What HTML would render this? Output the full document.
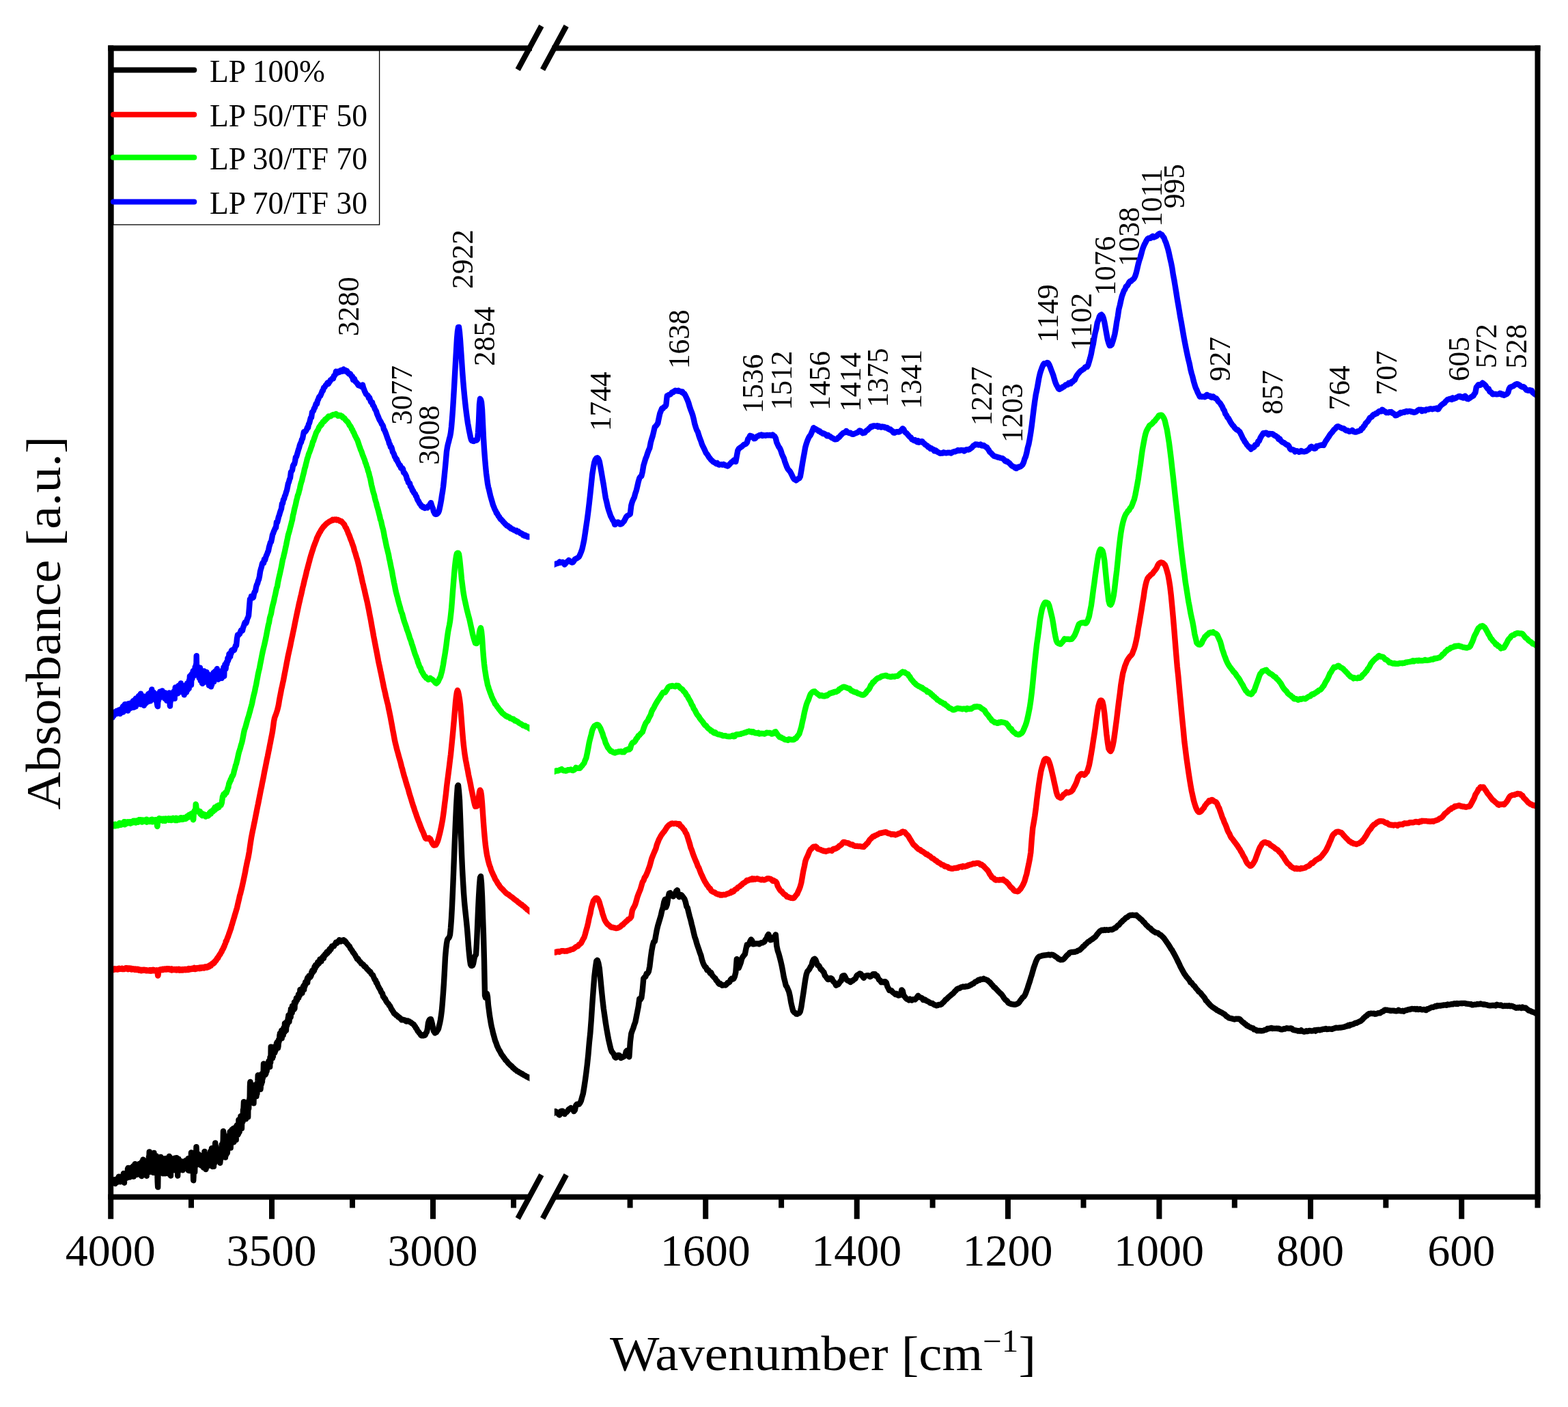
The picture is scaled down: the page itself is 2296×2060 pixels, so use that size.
<!DOCTYPE html>
<html lang="en"><head><meta charset="utf-8"><title>FTIR spectra</title>
<style>html,body{margin:0;padding:0;background:#fff}svg{display:block}</style></head>
<body>
<svg xmlns="http://www.w3.org/2000/svg" width="2296" height="2060" viewBox="0 0 2296 2060">
<rect width="2296" height="2060" fill="#fff"/>
<defs><clipPath id="cl"><rect x="162.2" y="70.5" width="613.2" height="1682"/></clipPath><clipPath id="cr"><rect x="811.8" y="70.5" width="1439.7" height="1682"/></clipPath></defs>
<g font-family="'Liberation Serif', serif" fill="#000">
<text transform="translate(524.8 492.3) rotate(-90)" font-size="43.5">3280</text>
<text transform="translate(691.6 423) rotate(-90)" font-size="43.5">2922</text>
<text transform="translate(723.6 535.9) rotate(-90)" font-size="43.5">2854</text>
<text transform="translate(602.8 622) rotate(-90)" font-size="43.5">3077</text>
<text transform="translate(643.4 680.5) rotate(-90)" font-size="43.5">3008</text>
<text transform="translate(894.2 631.2) rotate(-90)" font-size="43.5">1744</text>
<text transform="translate(1009.4 540.2) rotate(-90)" font-size="43.5">1638</text>
<text transform="translate(1117.2 605.4) rotate(-90)" font-size="43.5">1536</text>
<text transform="translate(1158.8 600.4) rotate(-90)" font-size="43.5">1512</text>
<text transform="translate(1214.8 601.1) rotate(-90)" font-size="43.5">1456</text>
<text transform="translate(1260 603) rotate(-90)" font-size="43.5">1414</text>
<text transform="translate(1300.3 596.6) rotate(-90)" font-size="43.5">1375</text>
<text transform="translate(1348.6 599) rotate(-90)" font-size="43.5">1341</text>
<text transform="translate(1452.2 623.5) rotate(-90)" font-size="43.5">1227</text>
<text transform="translate(1497 648.3) rotate(-90)" font-size="43.5">1203</text>
<text transform="translate(1549.1 501.7) rotate(-90)" font-size="43.5">1149</text>
<text transform="translate(1598.1 514.1) rotate(-90)" font-size="43.5">1102</text>
<text transform="translate(1632.8 432.7) rotate(-90)" font-size="43.5">1076</text>
<text transform="translate(1668.2 390.2) rotate(-90)" font-size="43.5">1038</text>
<text transform="translate(1700.6 332.1) rotate(-90)" font-size="43.5">1011</text>
<text transform="translate(1733.6 305.3) rotate(-90)" font-size="43.5">995</text>
<text transform="translate(1801.2 558.3) rotate(-90)" font-size="43.5">927</text>
<text transform="translate(1878.2 607) rotate(-90)" font-size="43.5">857</text>
<text transform="translate(1975.5 600.5) rotate(-90)" font-size="43.5">764</text>
<text transform="translate(2045.2 578.6) rotate(-90)" font-size="43.5">707</text>
<text transform="translate(2151.3 558.2) rotate(-90)" font-size="43.5">605</text>
<text transform="translate(2190.6 539.3) rotate(-90)" font-size="43.5">572</text>
<text transform="translate(2234.9 539.8) rotate(-90)" font-size="43.5">528</text>
</g>
<g fill="none" stroke-width="8.4" stroke-linejoin="round" stroke-linecap="butt">
<path clip-path="url(#cl)" stroke="#000" d="M156.2 1732.7L156.45 1733L156.7 1732.3L156.95 1731.5L157.2 1731.9L157.45 1731.2L157.7 1732.4L157.95 1733.9L158.2 1731.6L158.45 1731.4L158.7 1732.7L158.95 1732.4L159.2 1732.1L159.45 1730.8L159.7 1731.8L159.95 1732.6L160.2 1730.1L160.45 1731.1L160.7 1729.3L160.95 1730L161.2 1729.2L161.45 1731.1L161.7 1729.8L161.95 1731.6L162.2 1731.4L162.45 1730.9L162.7 1727.9L162.95 1730.3L163.2 1730.9L163.45 1731L163.7 1728.7L163.95 1730.1L164.2 1729.3L164.45 1729.5L164.7 1732.1L164.95 1729.3L165.2 1730.4L165.45 1731.7L165.7 1729.4L165.95 1730.1L166.2 1730.3L166.45 1730.2L166.7 1728L166.95 1730L167.2 1732.1L167.45 1727.1L167.7 1731.1L167.95 1729.8L168.2 1728.3L168.45 1733L168.7 1730.6L168.95 1727L169.2 1729.2L169.45 1730.1L169.7 1728.5L169.95 1730.1L170.2 1728.5L170.45 1729.9L170.7 1731.3L170.95 1727L171.2 1728.7L171.45 1727.2L171.7 1728.3L171.95 1725.4L172.2 1726.6L172.45 1727.3L172.7 1729.6L172.95 1730.1L173.2 1724.5L173.45 1725.6L173.7 1728.7L173.95 1722.6L174.2 1726L174.45 1726.8L174.7 1729.9L174.95 1728.5L175.2 1725.9L175.45 1725.7L175.7 1725.9L175.95 1730.4L176.2 1725.3L176.45 1725.5L176.7 1727.2L176.95 1725.8L177.2 1725.5L177.45 1722.9L177.7 1725.9L177.95 1724.6L178.2 1729.1L178.45 1727.5L178.7 1725.5L178.95 1727.4L179.2 1724.3L179.45 1728.5L179.7 1725.1L179.95 1726.9L180.2 1720.9L180.45 1726L180.7 1719.3L180.95 1718L181.2 1723.5L181.45 1721.4L181.7 1724.8L181.95 1731.7L182.2 1721L182.45 1721.5L182.7 1724.2L182.95 1725.1L183.2 1722.5L183.45 1722.2L183.7 1725.3L183.95 1724.4L184.2 1718.4L184.45 1721.7L184.7 1721.9L184.95 1717.5L185.2 1722.3L185.45 1717.7L185.7 1724.6L185.95 1721.3L186.2 1720.6L186.45 1717.6L186.7 1719.3L186.95 1711.3L187.2 1714.6L187.45 1720.5L187.7 1709.9L187.95 1722.2L188.2 1710.9L188.45 1721.4L188.7 1714.3L188.95 1721.2L189.2 1718.1L189.45 1710.6L189.7 1722.8L189.95 1723.6L190.2 1716.6L190.45 1715.5L190.7 1715.9L190.95 1711.9L191.2 1721.4L191.45 1713.6L191.7 1715.8L191.95 1712.1L192.2 1712.7L192.45 1709.4L192.7 1721.6L192.95 1714.6L193.2 1720L193.45 1715.2L193.7 1711.5L193.95 1713.2L194.2 1711.9L194.45 1714.6L194.7 1712.6L194.95 1712.9L195.2 1707.2L195.45 1710L195.7 1722.6L195.95 1710.5L196.2 1708.4L196.45 1715.5L196.7 1721L196.95 1706L197.2 1712.4L197.45 1710.1L197.7 1704.1L197.95 1717.1L198.2 1713.1L198.45 1713.5L198.7 1709L198.95 1715.4L199.2 1710L199.45 1712.1L199.7 1706.8L199.95 1706.1L200.2 1719.9L200.45 1709.8L200.7 1714.1L200.95 1712.3L201.2 1710L201.45 1709.5L201.7 1715.8L201.95 1710.6L202.2 1711.3L202.45 1712.2L202.7 1718.6L202.95 1715.8L203.2 1714.1L203.45 1708.7L203.7 1704L203.95 1717.2L204.2 1717.2L204.45 1710.9L204.7 1714.7L204.95 1716L205.2 1716.3L205.45 1716.7L205.7 1708.7L205.95 1720.1L206.2 1704L206.45 1716.2L206.7 1714L206.95 1716.2L207.2 1722L207.45 1719.7L207.7 1704.1L207.95 1700.8L208.2 1715.6L208.45 1704.7L208.7 1710.6L208.95 1715.6L209.2 1700.7L209.45 1697.8L209.7 1712L209.95 1710.6L210.2 1708.8L210.45 1710.5L210.7 1704.9L210.95 1700.9L211.2 1709L211.45 1704L211.7 1699.8L211.95 1713L212.2 1709.4L212.45 1712.2L212.7 1703.5L212.95 1705.5L213.2 1703.2L213.45 1703.8L213.7 1710.5L213.95 1704.3L214.2 1711.4L214.45 1711.2L214.7 1721.8L214.95 1700L215.2 1714.4L215.45 1708.1L215.7 1708.5L215.95 1699.2L216.2 1705.5L216.45 1713.1L216.7 1707.7L216.95 1708.6L217.2 1706.1L217.45 1715.3L217.7 1707.7L217.95 1693.6L218.2 1703.1L218.45 1694.8L218.7 1686.4L218.95 1703.9L219.2 1715.8L219.45 1707.4L219.7 1699.4L219.95 1700.8L220.2 1714.1L220.45 1707.7L220.7 1706.9L220.95 1706.2L221.2 1706.7L221.45 1711.6L221.7 1709.9L221.95 1707.6L222.2 1699.3L222.45 1709.4L222.7 1701.5L222.95 1713L223.2 1697.5L223.45 1704.8L223.7 1705.6L223.95 1696.9L224.2 1716.8L224.45 1715L224.7 1702.3L224.95 1710.4L225.2 1707.7L225.45 1687.9L225.7 1706.7L225.95 1704.6L226.2 1705.5L226.45 1697.8L226.7 1703.1L226.95 1703.6L227.2 1712.6L227.45 1706.9L227.7 1704.6L227.95 1714.8L228.2 1700.9L228.45 1702L228.7 1692.5L228.95 1715L229.2 1711L229.45 1710.8L229.7 1709.6L229.95 1707.8L230.2 1713.7L230.45 1720L230.7 1730L230.95 1734.7L231.2 1738.1L231.45 1721.3L231.7 1709.2L231.95 1702.1L232.2 1700.6L232.45 1715.4L232.7 1708L232.95 1705L233.2 1702.2L233.45 1697.1L233.7 1704.1L233.95 1710.4L234.2 1701.9L234.45 1703L234.7 1703.1L234.95 1705.3L235.2 1693.9L235.45 1703L235.7 1698.8L235.95 1710.5L236.2 1699.4L236.45 1708.4L236.7 1714.8L236.95 1702.5L237.2 1700.5L237.45 1705.9L237.7 1704.6L237.95 1697.9L238.2 1707.7L238.45 1718.2L238.7 1702.9L238.95 1703.3L239.2 1697.7L239.45 1706.9L239.7 1696.4L239.95 1697.4L240.2 1713.4L240.45 1698.8L240.7 1712.2L240.95 1715.2L241.2 1706.7L241.45 1708.7L241.7 1718.2L241.95 1703.8L242.2 1701.2L242.45 1696.1L242.7 1705.5L242.95 1715.2L243.2 1711.8L243.45 1699L243.7 1699.7L243.95 1702.1L244.2 1707.5L244.45 1704.1L244.7 1707L244.95 1707.6L245.2 1703.6L245.45 1705.4L245.7 1707.1L245.95 1705.2L246.2 1709.2L246.45 1718.4L246.7 1709.8L246.95 1706.3L247.2 1694.6L247.45 1708.6L247.7 1693L247.95 1696.6L248.2 1711.9L248.45 1710.9L248.7 1705.2L248.95 1694.7L249.2 1703.8L249.45 1701.7L249.7 1710.6L249.95 1721.5L250.2 1707.9L250.45 1701.2L250.7 1698.6L250.95 1706.1L251.2 1705.3L251.45 1698.9L251.7 1707.3L251.95 1699L252.2 1713.8L252.45 1713.5L252.7 1713.6L252.95 1703.5L253.2 1709.9L253.45 1705.7L253.7 1704L253.95 1704.4L254.2 1698.2L254.45 1697.4L254.7 1711.6L254.95 1705.3L255.2 1707.9L255.45 1712.8L255.7 1695.7L255.95 1701.6L256.2 1707.6L256.45 1709L256.7 1704.2L256.95 1712.9L257.2 1707.8L257.45 1699.1L257.7 1700.9L257.95 1711.4L258.2 1709.4L258.45 1695.1L258.7 1714.7L258.95 1710.1L259.2 1714.6L259.45 1704.3L259.7 1704.8L259.95 1699.9L260.2 1721.5L260.45 1705.5L260.7 1715.9L260.95 1702.8L261.2 1707.5L261.45 1696.9L261.7 1704.4L261.95 1712.3L262.2 1699.6L262.45 1712.7L262.7 1708.6L262.95 1701.1L263.2 1704.2L263.45 1704.5L263.7 1706.7L263.95 1704.3L264.2 1702.9L264.45 1705.6L264.7 1702.2L264.95 1701.1L265.2 1707L265.45 1711.2L265.7 1700.5L265.95 1707.3L266.2 1704.6L266.45 1703.3L266.7 1710.9L266.95 1705.4L267.2 1713.3L267.45 1704.5L267.7 1708.9L267.95 1706.7L268.2 1704.8L268.45 1709.7L268.7 1706.9L268.95 1709.7L269.2 1707.3L269.45 1703.3L269.7 1706.9L269.95 1707.5L270.2 1710.9L270.45 1703.5L270.7 1706.8L270.95 1700L271.2 1709.4L271.45 1702.3L271.7 1699.1L271.95 1706.2L272.2 1710.9L272.45 1699.7L272.7 1701.4L272.95 1702.7L273.2 1700.9L273.45 1707.3L273.7 1702L273.95 1702.2L274.2 1707.9L274.45 1701.8L274.7 1707L274.95 1700.5L275.2 1699.3L275.45 1696.2L275.7 1713.5L275.95 1703.1L276.2 1705.8L276.45 1704.4L276.7 1705.3L276.95 1704.7L277.2 1714.1L277.45 1698.9L277.7 1696.1L277.95 1698.8L278.2 1697L278.45 1708.2L278.7 1708.6L278.95 1698.7L279.2 1696.2L279.45 1702L279.7 1712L279.95 1687.5L280.2 1707L280.45 1697.5L280.7 1710.1L280.95 1697.3L281.2 1702L281.45 1694.4L281.7 1697.7L281.95 1713.2L282.2 1711.9L282.45 1709.7L282.7 1715.9L282.95 1717.5L283.2 1728.2L283.45 1723.3L283.7 1713.3L283.95 1706.7L284.2 1697.2L284.45 1703.3L284.7 1703.4L284.95 1712.1L285.2 1715.8L285.45 1702.7L285.7 1698.6L285.95 1703.1L286.2 1699.4L286.45 1697.6L286.7 1699.1L286.95 1686.4L287.2 1688.8L287.45 1679.1L287.7 1683.7L287.95 1688.7L288.2 1692.7L288.45 1695.5L288.7 1701.6L288.95 1700L289.2 1705.1L289.45 1703.6L289.7 1694.8L289.95 1704L290.2 1694.9L290.45 1699.6L290.7 1701.7L290.95 1690.2L291.2 1704.2L291.45 1704.6L291.7 1702.6L291.95 1700.9L292.2 1701.2L292.45 1697.3L292.7 1701.8L292.95 1700L293.2 1704.1L293.45 1695.8L293.7 1704.9L293.95 1704.2L294.2 1702.4L294.45 1700.4L294.7 1706.7L294.95 1692.5L295.2 1705.9L295.45 1704.5L295.7 1704.6L295.95 1705.2L296.2 1698.6L296.45 1701L296.7 1706.6L296.95 1705.2L297.2 1703.7L297.45 1692.8L297.7 1705.6L297.95 1709.5L298.2 1708.4L298.45 1703.5L298.7 1692.2L298.95 1707.8L299.2 1700.9L299.45 1685.9L299.7 1704L299.95 1692.3L300.2 1693.4L300.45 1697.5L300.7 1709.3L300.95 1699L301.2 1703L301.45 1712.1L301.7 1711.1L301.95 1700.5L302.2 1699.6L302.45 1693.2L302.7 1696.6L302.95 1703.6L303.2 1703.3L303.45 1701.5L303.7 1706.9L303.95 1695.9L304.2 1700.3L304.45 1705.1L304.7 1704.2L304.95 1707.1L305.2 1702.9L305.45 1698.4L305.7 1702.5L305.95 1694L306.2 1690L306.45 1703.7L306.7 1699.7L306.95 1701.8L307.2 1689.3L307.45 1697.5L307.7 1695.9L307.95 1694.2L308.2 1685.5L308.45 1697.2L308.7 1704.7L308.95 1701.4L309.2 1695.1L309.45 1698.6L309.7 1703.2L309.95 1681.3L310.2 1697.3L310.45 1701.3L310.7 1701.9L310.95 1708L311.2 1704.3L311.45 1699L311.7 1698.8L311.95 1701.5L312.2 1693.2L312.45 1696.1L312.7 1701.7L312.95 1707.9L313.2 1694.7L313.45 1695.2L313.7 1696.5L313.95 1703.2L314.2 1694L314.45 1701L314.7 1681.2L314.95 1678.9L315.2 1673.4L315.45 1679.9L315.7 1687.2L315.95 1678.1L316.2 1685.6L316.45 1694.7L316.7 1688.9L316.95 1683.5L317.2 1699L317.45 1695.5L317.7 1695.4L317.95 1689.3L318.2 1698.3L318.45 1690.5L318.7 1698.5L318.95 1686.1L319.2 1686.3L319.45 1692.6L319.7 1686.9L319.95 1695.1L320.2 1692.4L320.45 1685L320.7 1690.9L320.95 1688.1L321.2 1695.6L321.45 1686L321.7 1686.9L321.95 1696.7L322.2 1702.7L322.45 1700.9L322.7 1688.9L322.95 1689.5L323.2 1697.1L323.45 1686.7L323.7 1681.2L323.95 1687.5L324.2 1689.2L324.45 1681L324.7 1675.7L324.95 1676.6L325.2 1688.9L325.45 1679.9L325.7 1682.9L325.95 1683.6L326.2 1683L326.45 1671.8L326.7 1669.9L326.95 1656.1L327.2 1658.4L327.45 1658.6L327.7 1677.9L327.95 1676.1L328.2 1674.8L328.45 1678.2L328.7 1679.1L328.95 1684.5L329.2 1670.5L329.45 1673.6L329.7 1677.4L329.95 1694.6L330.2 1684.9L330.45 1678.3L330.7 1683L330.95 1690.8L331.2 1676.9L331.45 1675.9L331.7 1685L331.95 1680.5L332.2 1681.3L332.45 1674L332.7 1688.2L332.95 1686.7L333.2 1679.5L333.45 1679.9L333.7 1663.4L333.95 1679L334.2 1673.7L334.45 1677L334.7 1678.1L334.95 1671.6L335.2 1663.2L335.45 1675L335.7 1668L335.95 1670L336.2 1668L336.45 1669.1L336.7 1657L336.95 1677.4L337.2 1671.3L337.45 1675.9L337.7 1680.6L337.95 1668.6L338.2 1657.3L338.45 1662.3L338.7 1660L338.95 1663.7L339.2 1666.7L339.45 1654L339.7 1667.4L339.95 1656.1L340.2 1666.3L340.45 1663.5L340.7 1661.8L340.95 1662.8L341.2 1659.6L341.45 1658.8L341.7 1652.1L341.95 1661.3L342.2 1671.9L342.45 1672.3L342.7 1668L342.95 1664L343.2 1655.5L343.45 1667.4L343.7 1658.3L343.95 1657.8L344.2 1656.1L344.45 1657.9L344.7 1654.5L344.95 1656.1L345.2 1649.9L345.45 1653.7L345.7 1668.8L345.95 1654.8L346.2 1653.5L346.45 1657.6L346.7 1658.3L346.95 1647.4L347.2 1652.4L347.45 1658.6L347.7 1654.5L347.95 1653.4L348.2 1661.4L348.45 1648.1L348.7 1652.2L348.95 1648.4L349.2 1659.7L349.45 1639.5L349.7 1646.6L349.95 1647L350.2 1653.6L350.45 1652.9L350.7 1657L350.95 1639.5L351.2 1652.5L351.45 1646.1L351.7 1643.5L351.95 1650L352.2 1641.2L352.45 1634.1L352.7 1643.4L352.95 1636.4L353.2 1640.8L353.45 1646.1L353.7 1645.3L353.95 1652.1L354.2 1641.3L354.45 1633.1L354.7 1637.1L354.95 1635.6L355.2 1633.3L355.45 1642.1L355.7 1634.8L355.95 1624.9L356.2 1635.6L356.45 1624L356.7 1619L356.95 1613.1L357.2 1617.3L357.45 1619.6L357.7 1632.9L357.95 1632.7L358.2 1634.4L358.45 1634.8L358.7 1623.9L358.95 1630.7L359.2 1629.5L359.45 1631.6L359.7 1622.1L359.95 1638.4L360.2 1629.1L360.45 1621.1L360.7 1617.6L360.95 1625.1L361.2 1625.6L361.45 1621.4L361.7 1625.3L361.95 1620.6L362.2 1626.7L362.45 1618.9L362.7 1622.1L362.95 1627.2L363.2 1635.5L363.45 1614.8L363.7 1617.2L363.95 1614.5L364.2 1622.9L364.45 1611.5L364.7 1614.6L364.95 1616.4L365.2 1610.1L365.45 1608.2L365.7 1606.8L365.95 1590.7L366.2 1585.3L366.45 1583.9L366.7 1585.8L366.95 1588.9L367.2 1587.8L367.45 1601.5L367.7 1612L367.95 1611.7L368.2 1608.1L368.45 1603.2L368.7 1611L368.95 1603.7L369.2 1599.9L369.45 1601.4L369.7 1613.3L369.95 1605.9L370.2 1610.6L370.45 1601L370.7 1608.3L370.95 1599.3L371.2 1601.2L371.45 1615.3L371.7 1605.3L371.95 1597.7L372.2 1599.5L372.45 1601.3L372.7 1605.6L372.95 1595.8L373.2 1588.5L373.45 1596L373.7 1597.2L373.95 1597.2L374.2 1603.3L374.45 1597.4L374.7 1599.6L374.95 1588.9L375.2 1599L375.45 1605.1L375.7 1597.7L375.95 1594.5L376.2 1593.5L376.45 1601.3L376.7 1585.4L376.95 1586.7L377.2 1585.3L377.45 1582.5L377.7 1574.3L377.95 1579.5L378.2 1580L378.45 1585.6L378.7 1586.5L378.95 1582.1L379.2 1587.9L379.45 1592.1L379.7 1582.3L379.95 1585.5L380.2 1589.6L380.45 1580.2L380.7 1586L380.95 1579.2L381.2 1589.6L381.45 1594.8L381.7 1592.7L381.95 1580.9L382.2 1585L382.45 1581.3L382.7 1580.6L382.95 1587L383.2 1572.3L383.45 1583.3L383.7 1577.3L383.95 1583.8L384.2 1577.3L384.45 1572.5L384.7 1576.6L384.95 1578.2L385.2 1574.1L385.45 1575.2L385.7 1568.4L385.95 1557.5L386.2 1567.8L386.45 1563.5L386.7 1560.1L386.95 1561.7L387.2 1569.3L387.45 1564.8L387.7 1564.9L387.95 1567.6L388.2 1573.7L388.45 1561.4L388.7 1572.8L388.95 1563.8L389.2 1561.2L389.45 1571.5L389.7 1564.8L389.95 1558.7L390.2 1562.4L390.45 1567.7L390.7 1568.3L390.95 1560.4L391.2 1563.5L391.45 1564.3L391.7 1557.5L391.95 1561.4L392.2 1559L392.45 1556.2L392.7 1555.7L392.95 1557.6L393.2 1556.8L393.45 1553.6L393.7 1553.6L393.95 1559.8L394.2 1555.3L394.45 1557.6L394.7 1558.4L394.95 1555.2L395.2 1562L395.45 1548.1L395.7 1554.3L395.95 1548.3L396.2 1555.4L396.45 1551.6L396.7 1532.6L396.95 1534.7L397.2 1541.9L397.45 1544.5L397.7 1546.7L397.95 1545L398.2 1547.7L398.45 1548.4L398.7 1545L398.95 1549.1L399.2 1535L399.45 1546.3L399.7 1539L399.95 1546.5L400.2 1541.1L400.45 1537.8L400.7 1542.3L400.95 1536.5L401.2 1535.9L401.45 1532.7L401.7 1538.2L401.95 1539.7L402.2 1541.2L402.45 1535.9L402.7 1540L402.95 1535.3L403.2 1534.3L403.45 1536.3L403.7 1537.6L403.95 1531.5L404.2 1531.4L404.45 1531.2L404.7 1531.6L404.95 1527.3L405.2 1534.2L405.45 1528.2L405.7 1531L405.95 1525.6L406.2 1529.6L406.45 1529.2L406.7 1525.7L406.95 1534.3L407.2 1527.7L407.45 1532.4L407.7 1528.8L407.95 1522.3L408.2 1522.9L408.45 1525.4L408.7 1523.6L408.95 1523L409.2 1521.3L409.45 1515.3L409.7 1520.5L409.95 1512.8L410.2 1521.6L410.45 1517.2L410.7 1516.7L410.95 1517.9L411.2 1519.1L411.45 1512.5L411.7 1510.8L411.95 1512.6L412.2 1508.6L412.45 1511.8L412.7 1520.1L412.95 1510.3L413.2 1515.6L413.45 1508L413.7 1513.1L413.95 1510.4L414.2 1510.7L414.45 1512.2L414.7 1515.6L414.95 1509.8L415.2 1509L415.45 1504.7L415.7 1509.3L415.95 1506L416.2 1509.1L416.45 1505.6L416.7 1511L416.95 1498.3L417.2 1503.3L417.45 1506.6L417.7 1502.1L417.95 1500.2L418.2 1501.4L418.45 1497.4L418.7 1501.7L418.95 1508.6L419.2 1503.9L419.45 1496.3L419.7 1496.5L419.95 1497.5L420.2 1501.3L420.45 1495.1L420.7 1495L420.95 1499.3L421.2 1498.6L421.45 1494.2L421.7 1491.4L421.95 1489.5L422.2 1491.5L422.45 1486.3L422.7 1494.6L422.95 1489.8L423.2 1492.5L423.45 1495.9L423.7 1493.2L423.95 1485.7L424.2 1491L424.45 1491.2L424.7 1485L424.95 1483.8L425.2 1485.5L425.45 1480.6L425.7 1488.8L425.95 1477.1L426.2 1480.1L426.45 1481.9L426.7 1481.3L426.95 1481.8L427.2 1481.5L427.45 1479.5L427.7 1482.6L427.95 1472.9L428.2 1478.2L428.45 1475.6L428.7 1477.3L428.95 1476.8L429.2 1473.2L429.45 1473.3L429.7 1476.4L429.95 1474.6L430.2 1471.2L430.45 1477.7L430.7 1477.8L430.95 1467.3L431.2 1471.3L431.45 1476.3L431.7 1471.3L431.95 1469.2L432.2 1467.5L432.45 1466.1L432.7 1466.3L432.95 1464.9L433.2 1467.6L433.45 1464.2L433.7 1463.6L433.95 1461.2L434.2 1463.5L434.45 1460.9L434.7 1462.2L434.95 1464.6L435.2 1462.5L435.45 1462.3L435.7 1461.5L435.95 1460.3L436.2 1459.4L436.45 1458.6L436.7 1460.6L436.95 1455.9L437.2 1461L437.45 1457.6L437.7 1455.3L437.95 1455.5L438.2 1454.6L438.45 1456.1L438.7 1453.7L438.95 1457.4L439.2 1452.7L439.45 1449L439.7 1451.9L439.95 1448.8L440.2 1452.6L440.45 1454.5L440.7 1453.2L440.95 1448.5L441.2 1449.3L441.45 1454.3L441.7 1450.8L441.95 1449.7L442.2 1451.4L442.45 1453.9L442.7 1451.1L442.95 1448.3L443.2 1448.3L443.45 1448.4L443.7 1445.5L443.95 1444.2L444.2 1446L444.45 1443.6L444.7 1444.9L444.95 1444.8L445.2 1448.8L445.45 1442.1L445.7 1443.1L445.95 1442.6L446.2 1443.4L446.45 1444.1L446.7 1440.7L446.95 1439.7L447.2 1437.7L447.45 1438.6L447.7 1441L447.95 1439.6L448.2 1437.2L448.45 1438L448.7 1438.3L448.95 1438.8L449.2 1436.3L449.45 1436.5L449.7 1433.3L449.95 1434.1L450.2 1438.6L450.45 1431.4L450.7 1434.3L450.95 1434.8L451.2 1433.3L451.45 1432.2L451.7 1433L451.95 1432.7L452.2 1432.2L452.45 1428.7L452.7 1431.2L452.95 1429.6L453.2 1429.7L453.45 1430.6L453.7 1430.8L453.95 1430.8L454.2 1428.1L454.45 1430L454.7 1430L454.95 1429.5L455.2 1429.4L455.45 1426.5L455.7 1426.1L455.95 1427.2L456.2 1423.3L456.45 1425.4L456.7 1423.8L456.95 1423.6L457.2 1421.1L457.45 1422L457.7 1422.9L457.95 1423.8L458.2 1423.5L458.45 1421.4L458.7 1420.8L458.95 1419.3L459.2 1420.7L459.45 1419.3L459.7 1420L459.95 1421.2L460.2 1418.1L460.45 1415.6L460.7 1416L460.95 1414.7L461.2 1414.6L461.45 1417.7L461.7 1415.8L461.95 1412.9L462.2 1415.5L462.45 1415.9L462.7 1413.3L462.95 1412.5L463.2 1412.6L463.45 1413.1L463.7 1413.3L463.95 1413.7L464.2 1413.4L464.45 1413.1L464.7 1413L464.95 1411.8L465.2 1408.8L465.45 1410.3L465.7 1410.6L465.95 1409.4L466.2 1410.8L466.45 1408.9L466.7 1408L466.95 1410.6L467.2 1409.4L467.45 1408.6L467.7 1409.2L467.95 1409.1L468.2 1408L468.45 1404.5L468.7 1406.3L468.95 1406.3L469.2 1405.5L469.45 1406.5L469.7 1407.3L469.95 1405.1L470.2 1404.1L470.45 1407.3L470.7 1404.2L470.95 1403L471.2 1404.3L471.45 1404.1L471.7 1402.6L471.95 1403.8L472.2 1402.1L472.45 1401.3L472.7 1402.1L472.95 1402.3L473.2 1400.5L473.45 1401.2L473.7 1400.4L473.95 1403L474.2 1399.1L474.45 1400.9L474.7 1399.1L474.95 1398.8L475.2 1399.3L475.45 1399.1L475.7 1399.2L475.95 1398L476.2 1396.9L476.45 1396.7L476.7 1397.4L476.95 1397.2L477.2 1397.6L477.45 1396.5L477.7 1396.8L477.95 1396.9L478.2 1395.5L478.45 1393.8L478.7 1393.9L478.95 1393.4L479.2 1395.7L479.45 1393.4L479.7 1394.8L479.95 1394.1L480.2 1394.7L480.45 1393.9L480.7 1392.8L480.95 1392.4L481.2 1392.4L481.45 1392.2L481.7 1391.4L481.95 1391.6L482.2 1392.6L482.45 1389.7L482.7 1391L482.95 1389.9L483.2 1390.5L483.45 1390.7L483.7 1389.8L483.95 1390.2L484.2 1388.1L484.45 1389.9L484.7 1388.3L484.95 1389L485 1388.6L486 1385.5L487 1385.8L488 1385.4L489 1385.3L490 1383.1L491 1382L492 1379.8L493 1380.9L494 1380.4L495 1378.5L496 1377.7L497 1376.2L498 1377.6L499 1378.5L500 1377L501 1377.3L502 1376.9L503 1376.2L504 1378.2L505 1377.4L506 1378.8L507 1380L508 1381.5L509 1382.5L510 1383.9L511 1384.8L512 1386L513 1388.4L514 1389.7L515 1391L516 1392.6L517 1394.5L518 1395.3L519 1397L520 1398.3L521 1400.5L522 1402L523 1404.1L524 1403.6L525 1405.2L526 1407.2L527 1407.7L528 1408.8L529 1410.9L530 1410.9L531 1411.5L532 1412.4L533 1414.2L534 1415.2L535 1415.3L536 1416.5L537 1418.2L538 1419.2L539 1419.7L540 1421.3L541 1422.4L542 1422.5L543 1424.5L544 1426.2L545 1427.1L546 1427.8L547 1430.3L548 1432.6L549 1434.8L550 1434.9L551 1439L552 1439.2L553 1442.2L554 1444.3L555 1446.2L556 1447.9L557 1449.3L558 1452.2L559 1453.6L560 1454.7L561 1459.1L562 1459.8L563 1462L564 1462.2L565 1464.9L566 1466.5L567 1468.1L568 1469L569 1470L570 1472.1L571 1472.8L572 1474.8L573 1477.3L574 1478.4L575 1480.3L576 1481.6L577 1483.7L578 1484.5L579 1484.8L580 1486.4L581 1486.4L582 1487.4L583 1488.9L584 1488.9L585 1490.3L586 1490.6L587 1492L588 1493.1L589 1492.5L590 1493.3L591 1493.1L592 1493.3L593 1493.5L594 1494.9L595 1495.5L596 1494.9L597 1494.6L598 1495.5L599 1495.3L600 1496.2L601 1496.5L602 1497.2L603 1498.2L604 1498.6L605 1499.6L606 1500.1L607 1502L608 1503L609 1505.1L610 1506.2L611 1508.2L612 1510L613 1510.8L614 1512.4L615 1513.4L616 1515.1L617 1516.2L618 1516.2L619 1515.7L620 1516.4L621 1514.9L622 1515.9L623 1514.6L624 1511.9L625 1510.8L626 1505.7L627 1497.8L628 1494.7L629 1493L630 1492.3L631 1492.3L632 1495.5L633 1499.6L634 1505.1L635 1509.7L636 1510.8L637 1512.5L638 1511.6L639 1511.4L640 1509.5L641 1508.1L642 1506.4L643 1502L644 1498.2L645 1493L646 1486.5L647 1478.5L648 1466.6L649 1453.4L650 1438.9L651 1420.8L652 1401.5L653 1390.1L654 1381.5L655 1376L656 1374.2L657 1373.4L658 1371.8L659 1368.3L660 1358.3L661 1344.6L662 1326.2L663 1303.9L664 1279.4L665 1253.7L666 1228.3L667 1204.4L668 1182.8L669 1165.2L670 1151.2L671 1149.7L672 1158.7L673 1171.8L674 1197L675 1224L676 1250.3L677 1272.8L678 1290.6L679 1306.9L680 1320.2L681 1330.6L682 1339.9L683 1349.4L684 1359.7L685 1371.8L686 1385.4L687 1396.4L688 1405.6L689 1412.2L690 1413.9L691 1414L692 1413.4L693 1410.9L694 1405.7L695 1400.8L696 1399.1L697 1397.5L698 1381.3L699 1358.4L700 1334.5L701 1313.4L702 1296.6L703 1284.9L704 1283L705 1293L706 1312.1L707 1341.3L708 1369.5L709 1407.1L710 1457.6L711 1460.8L712 1457.4L713 1454.7L714 1459.4L715 1471.8L716 1479.3L717 1487L718 1493L719 1499.2L720 1504L721 1507.8L722 1512.5L723 1516L724 1519.7L725 1523.4L726 1525.8L727 1528.5L728 1531.6L729 1533.5L730 1536L731 1537.6L732 1539.1L733 1541.1L734 1543.1L735 1544.6L736 1545.8L737 1547.3L738 1548.7L739 1549.9L740 1551.8L741 1552.6L742 1553.5L743 1554.9L744 1556.3L745 1557.3L746 1558.2L747 1559L748 1560.2L749 1560.7L750 1561.8L751 1563.2L752 1563.7L753 1564.8L754 1565.8L755 1566.4L756 1567L757 1568.3L758 1568.6L759 1569L760 1569.9L761 1570.5L762 1570.8L763 1571.7L764 1572.2L765 1572.3L766 1573.4L767 1574L768 1574.5L769 1574.6L770 1575.6L771 1576.2L772 1576.7L773 1576.8L774 1577.9L775 1577.8L776 1578.6L777 1579.5L778 1579.4L779 1579.9L780 1580.9L781 1581"/>
<path clip-path="url(#cr)" stroke="#000" d="M805.8 1633.8L807.3 1631.2L808.8 1630.8L810.3 1630.4L811.8 1629.1L813.3 1627.2L814.8 1628.1L816.3 1628.5L817.8 1631.3L819.3 1632.6L820.8 1627.6L822.3 1626.6L823.8 1626.7L825.3 1629.2L826.8 1631.1L828.3 1628.6L829.8 1628.2L831.3 1626.3L832.8 1624.1L834.3 1623.3L835.8 1622.2L837.3 1623.6L838.8 1622.9L840.3 1627.1L841.8 1625.5L843.3 1618.3L844.8 1616.7L846.3 1616.9L847.8 1616.7L849.3 1614.9L850.8 1611.9L852.3 1606.2L853.8 1601.2L855.3 1592.2L856.8 1582.3L858.3 1571.2L859.8 1559.1L861.3 1544.7L862.8 1527L864.3 1512.7L865.8 1493L867.3 1469.8L868.8 1449.1L870.3 1430L871.8 1417.3L873.3 1407L874.8 1405.8L876.3 1410.2L877.8 1418.1L879.3 1433.4L880.8 1448.9L882.3 1463.7L883.8 1476.5L885.3 1486.8L886.8 1497.4L888.3 1506.7L889.8 1514.9L891.3 1522.9L892.8 1529.4L894.3 1535.8L895.8 1539.7L897.3 1541.4L898.8 1543.4L900.3 1547.5L901.8 1548.6L903.3 1547.8L904.8 1544.9L906.3 1544.9L907.8 1546.1L909.3 1549L910.8 1548.3L912.3 1547.5L913.8 1546.7L915.3 1545.5L916.8 1539.4L918.3 1537.9L919.8 1542.2L921.3 1547.4L922.8 1525.7L924.3 1513.4L925.8 1509L927.3 1505.2L928.8 1500.3L930.3 1496.5L931.8 1488.9L933.3 1481.3L934.8 1473.6L936.3 1462.3L937.8 1463.3L939.3 1461L940.8 1449.5L942.3 1432.6L943.8 1430.8L945.3 1429.9L946.8 1425.2L948.3 1425.1L949.8 1422.5L951.3 1415.1L952.8 1402.4L954.3 1391.7L955.8 1383.7L957.3 1378.8L958.8 1378.2L960.3 1369.8L961.8 1361.6L963.3 1355.3L964.8 1350.2L966.3 1345.2L967.8 1340.1L969.3 1333.2L970.8 1328.6L972.3 1320.8L973.8 1316.7L975.3 1328.4L976.8 1324.3L978.3 1314.7L979.8 1308L981.3 1307.4L982.8 1310.4L984.3 1311.6L985.8 1312.5L987.3 1309.1L988.8 1308.1L990.3 1304.5L991.8 1303.3L993.3 1311.7L994.8 1313.3L996.3 1310L997.8 1310.4L999.3 1312L1000.8 1314.3L1002.3 1316.1L1003.8 1320.5L1005.3 1327.2L1006.8 1329.3L1008.3 1335.6L1009.8 1341.6L1011.3 1346.8L1012.8 1353.3L1014.3 1359L1015.8 1365.6L1017.3 1371.8L1018.8 1375.9L1020.3 1381.4L1021.8 1385.9L1023.3 1390.1L1024.8 1394.8L1026.3 1398.6L1027.8 1404.7L1029.3 1409.3L1030.8 1412.8L1032.3 1415.5L1033.8 1416.3L1035.3 1420.3L1036.8 1420L1038.3 1421.8L1039.8 1424.8L1041.3 1424.2L1042.8 1427.8L1044.3 1429.5L1045.8 1431.1L1047.3 1432.4L1048.8 1435.4L1050.3 1436.5L1051.8 1439.3L1053.3 1440.8L1054.8 1440L1056.3 1441.9L1057.8 1442.8L1059.3 1442.4L1060.8 1442.2L1062.3 1442.5L1063.8 1441.3L1065.3 1439L1066.8 1438.8L1068.3 1437.8L1069.8 1434.4L1071.3 1432.8L1072.8 1433.7L1074.3 1433L1075.8 1429.8L1077.3 1423.7L1078.8 1404.2L1080.3 1415.2L1081.8 1417.1L1083.3 1413.2L1084.8 1409.3L1086.3 1403.3L1087.8 1400.7L1089.3 1398.7L1090.8 1397.1L1092.3 1389.5L1093.8 1383.1L1095.3 1383.6L1096.8 1382.2L1098.3 1378.3L1099.8 1375.5L1101.3 1377.4L1102.8 1382.3L1104.3 1382.1L1105.8 1381.7L1107.3 1381.5L1108.8 1381.6L1110.3 1381.5L1111.8 1382.3L1113.3 1381.1L1114.8 1380.2L1116.3 1380.4L1117.8 1379.4L1119.3 1378.9L1120.8 1375.8L1122.3 1375L1123.8 1370.1L1125.3 1368L1126.8 1371.2L1128.3 1376.2L1129.8 1375.9L1131.3 1374.3L1132.8 1372.7L1134.3 1370.9L1135.8 1368.4L1137.3 1385L1138.8 1392L1140.3 1396.3L1141.8 1401.8L1143.3 1407.8L1144.8 1414.4L1146.3 1422.2L1147.8 1430.9L1149.3 1436.7L1150.8 1443L1152.3 1445L1153.8 1448.6L1155.3 1452.2L1156.8 1458.8L1158.3 1467.9L1159.8 1474.4L1161.3 1480.1L1162.8 1482.1L1164.3 1482.8L1165.8 1484.5L1167.3 1484.7L1168.8 1483.7L1170.3 1483.3L1171.8 1480.9L1173.3 1474.5L1174.8 1464.1L1176.3 1454.7L1177.8 1444.1L1179.3 1434L1180.8 1426.3L1182.3 1422.1L1183.8 1420.6L1185.3 1418.7L1186.8 1415.5L1188.3 1413.7L1189.8 1407.6L1191.3 1404.7L1192.8 1403.8L1194.3 1405.3L1195.8 1409.2L1197.3 1413.2L1198.8 1413.5L1200.3 1416L1201.8 1419.1L1203.3 1419.7L1204.8 1422.1L1206.3 1423.4L1207.8 1428.1L1209.3 1429.8L1210.8 1432.1L1212.3 1434.1L1213.8 1433.9L1215.3 1432.1L1216.8 1432.2L1218.3 1433.2L1219.8 1436.6L1221.3 1437.8L1222.8 1439.8L1224.3 1442.7L1225.8 1441.7L1227.3 1441.4L1228.8 1439.5L1230.3 1436.9L1231.8 1435.9L1233.3 1429.3L1234.8 1428.5L1236.3 1428.3L1237.8 1430.7L1239.3 1434L1240.8 1435.3L1242.3 1436.2L1243.8 1436.2L1245.3 1438L1246.8 1436.2L1248.3 1436.1L1249.8 1434.7L1251.3 1433.6L1252.8 1432.5L1254.3 1428.8L1255.8 1427.4L1257.3 1427L1258.8 1425.4L1260.3 1425.8L1261.8 1427.6L1263.3 1429.9L1264.8 1431.7L1266.3 1429L1267.8 1428.9L1269.3 1428.1L1270.8 1428.1L1272.3 1428.3L1273.8 1430L1275.3 1429.4L1276.8 1428.3L1278.3 1426.1L1279.8 1426.1L1281.3 1426.2L1282.8 1428.9L1284.3 1428.5L1285.8 1431.9L1287.3 1434.8L1288.8 1435.2L1290.3 1438.1L1291.8 1437.6L1293.3 1438.3L1294.8 1437.3L1296.3 1437.2L1297.8 1438.7L1299.3 1444.2L1300.8 1447L1302.3 1450L1303.8 1449.8L1305.3 1450.2L1306.8 1452.4L1308.3 1453.5L1309.8 1454.7L1311.3 1456L1312.8 1455L1314.3 1456.9L1315.8 1457.5L1317.3 1457.1L1318.8 1455.7L1320.3 1449.4L1321.8 1451.1L1323.3 1457.7L1324.8 1459.1L1326.3 1461.2L1327.8 1462.6L1329.3 1463.3L1330.8 1464.3L1332.3 1462.6L1333.8 1463.9L1335.3 1464.5L1336.8 1463.1L1338.3 1463.2L1339.8 1463.5L1341.3 1462L1342.8 1460L1344.3 1457.8L1345.8 1459.4L1347.3 1460.3L1348.8 1460.7L1350.3 1461.6L1351.8 1464L1353.3 1463.2L1354.8 1463.7L1356.3 1465.2L1357.8 1465.7L1359.3 1466.5L1360.8 1467.4L1362.3 1468.5L1363.8 1468.9L1365.3 1469L1366.8 1470.3L1368.3 1471.3L1369.8 1471.5L1371.3 1472.3L1372.8 1472L1374.3 1470.9L1375.8 1470.9L1377.3 1471L1378.8 1470.1L1380.3 1468.3L1381.8 1467.2L1383.3 1465.3L1384.8 1463.5L1386.3 1462.7L1387.8 1461L1389.3 1459.7L1390.8 1458.3L1392.3 1457.2L1393.8 1455.7L1395.3 1454.7L1396.8 1453.2L1398.3 1451.3L1399.8 1450.1L1401.3 1448.2L1402.8 1447.4L1404.3 1447.1L1405.8 1446.4L1407.3 1445.4L1408.8 1445L1410.3 1444.5L1411.8 1444.8L1413.3 1444.8L1414.8 1444L1416.3 1444.3L1417.8 1443.9L1419.3 1443.3L1420.8 1442.2L1422.3 1442L1423.8 1440.4L1425.3 1440.2L1426.8 1438.7L1428.3 1437.3L1429.8 1437L1431.3 1436L1432.8 1434.7L1434.3 1435.1L1435.8 1433.7L1437.3 1433.9L1438.8 1433.9L1440.3 1432.8L1441.8 1433.9L1443.3 1434L1444.8 1434.7L1446.3 1435.4L1447.8 1437L1449.3 1438L1450.8 1439.8L1452.3 1441.6L1453.8 1443L1455.3 1445.3L1456.8 1445.9L1458.3 1447.6L1459.8 1449.2L1461.3 1450.8L1462.8 1452.4L1464.3 1453.9L1465.8 1455.1L1467.3 1456.8L1468.8 1459L1470.3 1461.5L1471.8 1463.4L1473.3 1464.6L1474.8 1465.6L1476.3 1468.3L1477.8 1468.9L1479.3 1469.4L1480.8 1470.1L1482.3 1470.3L1483.8 1470.5L1485.3 1470.8L1486.8 1470.7L1488.3 1470.3L1489.8 1469.5L1491.3 1468.7L1492.8 1467L1494.3 1464.6L1495.8 1462.8L1497.3 1460.6L1498.8 1459.6L1500.3 1457.7L1501.8 1454.5L1503.3 1450.3L1504.8 1446.3L1506.3 1441.3L1507.8 1437L1509.3 1431.8L1510.8 1427.2L1512.3 1421.8L1513.8 1416.5L1515.3 1412.5L1516.8 1408L1518.3 1404.7L1519.8 1402.2L1521.3 1400.7L1522.8 1400.1L1524.3 1399.7L1525.8 1399.2L1527.3 1399L1528.8 1398.6L1530.3 1398.5L1531.8 1398.4L1533.3 1398.1L1534.8 1397.8L1536.3 1397.7L1537.8 1398.4L1539.3 1397.6L1540.8 1397.8L1542.3 1398.3L1543.8 1399.2L1545.3 1400.4L1546.8 1401.2L1548.3 1402.2L1549.8 1403.9L1551.3 1404.3L1552.8 1405.4L1554.3 1405.2L1555.8 1405L1557.3 1404.4L1558.8 1402.9L1560.3 1401.1L1561.8 1399.3L1563.3 1397.9L1564.8 1396.8L1566.3 1394.8L1567.8 1394.4L1569.3 1394L1570.8 1394.1L1572.3 1393.7L1573.8 1393.8L1575.3 1393.3L1576.8 1392.9L1578.3 1391.7L1579.8 1391.3L1581.3 1390.8L1582.8 1389.1L1584.3 1387.8L1585.8 1385.9L1587.3 1385.2L1588.8 1383.1L1590.3 1382.1L1591.8 1380.5L1593.3 1378.9L1594.8 1378.4L1596.3 1377L1597.8 1376L1599.3 1375.1L1600.8 1373.9L1602.3 1372.7L1603.8 1371.7L1605.3 1369.6L1606.8 1367.7L1608.3 1365.9L1609.8 1364.1L1611.3 1362.9L1612.8 1361.9L1614.3 1361.7L1615.8 1362.1L1617.3 1361.3L1618.8 1362L1620.3 1361.3L1621.8 1361.7L1623.3 1361.9L1624.8 1361.1L1626.3 1361L1627.8 1361.2L1629.3 1360.7L1630.8 1359.8L1632.3 1358.7L1633.8 1358.6L1635.3 1356.6L1636.8 1355L1638.3 1354.4L1639.8 1352.5L1641.3 1350.6L1642.8 1349.6L1644.3 1347.7L1645.8 1346.6L1647.3 1345.2L1648.8 1343.6L1650.3 1343.2L1651.8 1342L1653.3 1340.7L1654.8 1340L1656.3 1340.1L1657.8 1339.7L1659.3 1339.9L1660.8 1340.1L1662.3 1340L1663.8 1339.8L1665.3 1341.3L1666.8 1342.5L1668.3 1343.7L1669.8 1345.2L1671.3 1346.2L1672.8 1347.9L1674.3 1349.7L1675.8 1350.7L1677.3 1353L1678.8 1354.6L1680.3 1355.8L1681.8 1357.6L1683.3 1358.7L1684.8 1359.4L1686.3 1361.4L1687.8 1362.5L1689.3 1363.7L1690.8 1364.4L1692.3 1365.4L1693.8 1365.7L1695.3 1365.9L1696.8 1367.2L1698.3 1368.4L1699.8 1369.1L1701.3 1370.5L1702.8 1372L1704.3 1373.5L1705.8 1375.6L1707.3 1377.7L1708.8 1380.1L1710.3 1382.1L1711.8 1384.4L1713.3 1386.8L1714.8 1389.3L1716.3 1391.2L1717.8 1394.1L1719.3 1396.7L1720.8 1399.5L1722.3 1402.4L1723.8 1405.4L1725.3 1408.6L1726.8 1411.4L1728.3 1415L1729.8 1417.7L1731.3 1420.5L1732.8 1423.2L1734.3 1425.9L1735.8 1427.8L1737.3 1430.2L1738.8 1431.8L1740.3 1433.6L1741.8 1435.6L1743.3 1438.5L1744.8 1438.8L1746.3 1441L1747.8 1442.9L1749.3 1443.8L1750.8 1446.3L1752.3 1448.1L1753.8 1449.6L1755.3 1451.8L1756.8 1452.9L1758.3 1454.2L1759.8 1456.4L1761.3 1458L1762.8 1459.7L1764.3 1461.8L1765.8 1465L1767.3 1465.9L1768.8 1468L1770.3 1469.5L1771.8 1471.3L1773.3 1472.6L1774.8 1473.9L1776.3 1474.9L1777.8 1475.9L1779.3 1476.9L1780.8 1478L1782.3 1479.3L1783.8 1479.7L1785.3 1480.9L1786.8 1481.5L1788.3 1482.3L1789.8 1482.9L1791.3 1484.4L1792.8 1484.6L1794.3 1486.2L1795.8 1487.9L1797.3 1488.6L1798.8 1490L1800.3 1490.6L1801.8 1490.8L1803.3 1491.3L1804.8 1491.5L1806.3 1492.2L1807.8 1492.5L1809.3 1491.6L1810.8 1491.7L1812.3 1491.8L1813.8 1491.7L1815.3 1492L1816.8 1493.7L1818.3 1495.3L1819.8 1496.7L1821.3 1497.4L1822.8 1499.1L1824.3 1499.8L1825.8 1501.8L1827.3 1502L1828.8 1503.1L1830.3 1503.9L1831.8 1504.5L1833.3 1505L1834.8 1505.4L1836.3 1507.3L1837.8 1507.4L1839.3 1508L1840.8 1509.2L1842.3 1508.9L1843.8 1509.2L1845.3 1509L1846.8 1509.4L1848.3 1509.1L1849.8 1509L1851.3 1508.3L1852.8 1507.8L1854.3 1507.6L1855.8 1506L1857.3 1506.2L1858.8 1505.7L1860.3 1505.5L1861.8 1504.9L1863.3 1506L1864.8 1505.6L1866.3 1505.9L1867.8 1505.9L1869.3 1505.6L1870.8 1506.1L1872.3 1505.7L1873.8 1506.5L1875.3 1507.1L1876.8 1507.4L1878.3 1506.9L1879.8 1506.2L1881.3 1506.6L1882.8 1505.8L1884.3 1505.3L1885.8 1505.6L1887.3 1505.7L1888.8 1505.8L1890.3 1505.4L1891.8 1505.9L1893.3 1507.7L1894.8 1508.1L1896.3 1508.4L1897.8 1508.7L1899.3 1508.9L1900.8 1509.6L1902.3 1509.4L1903.8 1509.8L1905.3 1508.4L1906.8 1509.8L1908.3 1510.2L1909.8 1510.6L1911.3 1510L1912.8 1509.3L1914.3 1510.1L1915.8 1509.5L1917.3 1508.9L1918.8 1509.1L1920.3 1509.5L1921.8 1509.4L1923.3 1509.1L1924.8 1508.3L1926.3 1509.5L1927.8 1508L1929.3 1508.2L1930.8 1507.6L1932.3 1508.3L1933.8 1507.7L1935.3 1507.5L1936.8 1506.9L1938.3 1506.7L1939.8 1506.7L1941.3 1505.9L1942.8 1507L1944.3 1506.9L1945.8 1506.5L1947.3 1506.6L1948.8 1506.6L1950.3 1506.9L1951.8 1506.2L1953.3 1505.8L1954.8 1505.3L1956.3 1504.7L1957.8 1504.9L1959.3 1504.9L1960.8 1504.6L1962.3 1504.5L1963.8 1504.5L1965.3 1504.2L1966.8 1503.8L1968.3 1503.6L1969.8 1503L1971.3 1502.5L1972.8 1502.3L1974.3 1501L1975.8 1501.7L1977.3 1500.2L1978.8 1500.5L1980.3 1499.6L1981.8 1499.5L1983.3 1498.5L1984.8 1497.6L1986.3 1497.8L1987.8 1496.9L1989.3 1496.3L1990.8 1495.5L1992.3 1495L1993.8 1493.8L1995.3 1492.4L1996.8 1490.4L1998.3 1489.3L1999.8 1487.9L2001.3 1487.1L2002.8 1485.4L2004.3 1484.3L2005.8 1484.3L2007.3 1483.7L2008.8 1483.9L2010.3 1484.1L2011.8 1483.7L2013.3 1484.7L2014.8 1484.5L2016.3 1484L2017.8 1483.3L2019.3 1483.4L2020.8 1483.3L2022.3 1482.1L2023.8 1481.2L2025.3 1480.9L2026.8 1479.3L2028.3 1478.5L2029.8 1478.9L2031.3 1478.8L2032.8 1479.1L2034.3 1479.3L2035.8 1479.8L2037.3 1479.7L2038.8 1479.6L2040.3 1479.6L2041.8 1480L2043.3 1480.2L2044.8 1480.2L2046.3 1480.1L2047.8 1478.7L2049.3 1479.7L2050.8 1480.1L2052.3 1480.4L2053.8 1479.8L2055.3 1480.7L2056.8 1479.9L2058.3 1479.1L2059.8 1479L2061.3 1478.4L2062.8 1477.9L2064.3 1478.1L2065.8 1477.6L2067.3 1477L2068.8 1477.2L2070.3 1477.4L2071.8 1477L2073.3 1477.9L2074.8 1477L2076.3 1478.1L2077.8 1477.8L2079.3 1477.2L2080.8 1477.8L2082.3 1478.4L2083.8 1478.1L2085.3 1477.9L2086.8 1478.5L2088.3 1479.1L2089.8 1477.3L2091.3 1477.4L2092.8 1476.5L2094.3 1475.7L2095.8 1475.1L2097.3 1474.6L2098.8 1474.7L2100.3 1474L2101.8 1473L2103.3 1473.6L2104.8 1472.3L2106.3 1472.7L2107.8 1472.3L2109.3 1472.5L2110.8 1471.9L2112.3 1472L2113.8 1471.4L2115.3 1471.6L2116.8 1471.3L2118.3 1471.8L2119.8 1470.6L2121.3 1471.1L2122.8 1470.7L2124.3 1470.5L2125.8 1470L2127.3 1470.3L2128.8 1469.4L2130.3 1469.3L2131.8 1469.9L2133.3 1468.9L2134.8 1469.9L2136.3 1469.1L2137.8 1469.1L2139.3 1469L2140.8 1469.2L2142.3 1468.9L2143.8 1468.9L2145.3 1469L2146.8 1469.5L2148.3 1469.6L2149.8 1469.9L2151.3 1470L2152.8 1470.4L2154.3 1470.2L2155.8 1471.4L2157.3 1471.4L2158.8 1470.6L2160.3 1470.8L2161.8 1470.6L2163.3 1470L2164.8 1470.4L2166.3 1470.2L2167.8 1469.5L2169.3 1470.1L2170.8 1470.3L2172.3 1470.8L2173.8 1470.5L2175.3 1471L2176.8 1471.1L2178.3 1471.8L2179.8 1472L2181.3 1472.3L2182.8 1472.3L2184.3 1472L2185.8 1472L2187.3 1472L2188.8 1471.9L2190.3 1472.4L2191.8 1470.7L2193.3 1471.5L2194.8 1471.7L2196.3 1472L2197.8 1471.4L2199.3 1472.4L2200.8 1473L2202.3 1472.8L2203.8 1472.4L2205.3 1472.9L2206.8 1472.4L2208.3 1473L2209.8 1472.3L2211.3 1473.2L2212.8 1472.8L2214.3 1472.9L2215.8 1473.7L2217.3 1474.2L2218.8 1475.2L2220.3 1475.7L2221.8 1475L2223.3 1475.5L2224.8 1474.7L2226.3 1475.2L2227.8 1476L2229.3 1474.5L2230.8 1475.6L2232.3 1475.8L2233.8 1475.5L2235.3 1476.8L2236.8 1477.9L2238.3 1479.5L2239.8 1479.6L2241.3 1480.3L2242.8 1481.2L2244.3 1481.6L2245.8 1482.2L2247.3 1482.6L2248.8 1483.8L2250.3 1483.6L2251.8 1485.1L2253.3 1484.9L2254.8 1485.3L2256.3 1486.5"/>
<path clip-path="url(#cl)" stroke="#f00" d="M156.2 1419.9L156.45 1420.1L156.7 1420.5L156.95 1418.9L157.2 1419.6L157.45 1419.5L157.7 1419.4L157.95 1419.5L158.2 1419.5L158.45 1420L158.7 1419.4L158.95 1419.9L159.2 1420L159.45 1419.4L159.7 1419.8L159.95 1420.5L160.2 1419.9L160.45 1419.4L160.7 1419.7L160.95 1419.2L161.2 1419.8L161.45 1420L161.7 1419.2L161.95 1419.5L162.2 1420.1L162.45 1419.3L162.7 1419.6L162.95 1419.1L163.2 1419.1L163.45 1419.3L163.7 1420.4L163.95 1419.3L164.2 1419.2L164.45 1419.2L164.7 1419.3L164.95 1419.7L165.2 1419.4L165.45 1420.3L165.7 1419.4L165.95 1420L166.2 1419.4L166.45 1419.5L166.7 1418.6L166.95 1419.2L167.2 1419.2L167.45 1419.1L167.7 1418.2L167.95 1419.6L168.2 1419L168.45 1418.9L168.7 1419L168.95 1419L169.2 1419.3L169.45 1418.5L169.7 1418.6L169.95 1419.2L170.2 1419.1L170.45 1418.9L170.7 1418.7L170.95 1418.6L171.2 1419L171.45 1419.5L171.7 1418.5L171.95 1419.6L172.2 1419.3L172.45 1418.7L172.7 1419.2L172.95 1418.2L173.2 1418.1L173.45 1418.3L173.7 1418.6L173.95 1418.7L174.2 1418.6L174.45 1418.8L174.7 1417.8L174.95 1419L175.2 1418.1L175.45 1418.4L175.7 1418.5L175.95 1418.2L176.2 1418.1L176.45 1418.2L176.7 1418.7L176.95 1418.9L177.2 1418.9L177.45 1418.2L177.7 1418.3L177.95 1418.2L178.2 1418.8L178.45 1417.7L178.7 1419.1L178.95 1418.3L179.2 1418.2L179.45 1418.7L179.7 1419L179.95 1418.6L180.2 1418.9L180.45 1418.5L180.7 1419L180.95 1419L181.2 1418.4L181.45 1419L181.7 1418.4L181.95 1418.4L182.2 1417.9L182.45 1418.2L182.7 1418.7L182.95 1417.7L183.2 1418.6L183.45 1418.4L183.7 1418.4L183.95 1417.3L184.2 1418.2L184.45 1418.5L184.7 1417.9L184.95 1418.3L185.2 1417.1L185.45 1418.5L185.7 1417.9L185.95 1418.6L186.2 1417.4L186.45 1418.5L186.7 1418.1L186.95 1418.5L187.2 1417.7L187.45 1417.9L187.7 1419.2L187.95 1417.8L188.2 1417.8L188.45 1418L188.7 1417.7L188.95 1418.7L189.2 1418.9L189.45 1417.9L189.7 1417.4L189.95 1418.7L190.2 1418.7L190.45 1418.6L190.7 1418.8L190.95 1417.9L191.2 1418.2L191.45 1417.7L191.7 1417.7L191.95 1418.8L192.2 1418.1L192.45 1419.5L192.7 1418.5L192.95 1418.2L193.2 1418.9L193.45 1419.4L193.7 1418.8L193.95 1418.1L194.2 1418.8L194.45 1419.3L194.7 1418.5L194.95 1418.4L195.2 1419.3L195.45 1418.9L195.7 1418.4L195.95 1418.8L196.2 1418.6L196.45 1419.2L196.7 1419.1L196.95 1419.6L197.2 1419.5L197.45 1418.5L197.7 1419.4L197.95 1419.7L198.2 1419.5L198.45 1419.8L198.7 1419.1L198.95 1419L199.2 1419.9L199.45 1419L199.7 1418.6L199.95 1420L200.2 1419.3L200.45 1419.5L200.7 1419L200.95 1419.1L201.2 1419.2L201.45 1419.6L201.7 1419.9L201.95 1418.8L202.2 1420.2L202.45 1419.3L202.7 1419.4L202.95 1420.2L203.2 1419.9L203.45 1419.3L203.7 1420.8L203.95 1419.6L204.2 1420.1L204.45 1420.1L204.7 1420.7L204.95 1419.9L205.2 1420.6L205.45 1419.8L205.7 1420.7L205.95 1419.9L206.2 1420.1L206.45 1421.1L206.7 1420.4L206.95 1420.3L207.2 1421.3L207.45 1420.5L207.7 1420L207.95 1420.7L208.2 1419.9L208.45 1420.9L208.7 1421L208.95 1420.2L209.2 1420.2L209.45 1420.5L209.7 1420.5L209.95 1420.1L210.2 1420.8L210.45 1419.6L210.7 1420.3L210.95 1420.4L211.2 1420.4L211.45 1420.7L211.7 1420L211.95 1420.9L212.2 1420.5L212.45 1420.3L212.7 1420L212.95 1420.1L213.2 1420.8L213.45 1420.2L213.7 1420.7L213.95 1421.2L214.2 1421.2L214.45 1421.4L214.7 1420.6L214.95 1420.2L215.2 1421.2L215.45 1420.8L215.7 1421.2L215.95 1420.7L216.2 1421.2L216.45 1421.1L216.7 1421L216.95 1420.9L217.2 1420.9L217.45 1420.8L217.7 1420.8L217.95 1421.1L218.2 1420.5L218.45 1421.5L218.7 1420.7L218.95 1421.1L219.2 1420.7L219.45 1420.6L219.7 1421.6L219.95 1420.6L220.2 1420.1L220.45 1420.4L220.7 1420.6L220.95 1421.7L221.2 1420.8L221.45 1421.1L221.7 1420.2L221.95 1420.9L222.2 1421L222.45 1421.5L222.7 1420.4L222.95 1421L223.2 1420.8L223.45 1420.2L223.7 1420.7L223.95 1420.6L224.2 1419.7L224.45 1421L224.7 1420.9L224.95 1420.5L225.2 1420.1L225.45 1421.4L225.7 1420.8L225.95 1421.2L226.2 1421.3L226.45 1420.5L226.7 1421.1L226.95 1420.6L227.2 1420.7L227.45 1420.7L227.7 1420.7L227.95 1421.2L228.2 1420.8L228.45 1420.6L228.7 1420.6L228.95 1420.9L229.2 1420.3L229.45 1420.5L229.7 1420.7L229.95 1420.5L230.2 1420.9L230.45 1421.4L230.7 1424.4L230.95 1426.9L231.2 1428.5L231.45 1428L231.7 1426.6L231.95 1423.1L232.2 1421.2L232.45 1420.7L232.7 1420.5L232.95 1421L233.2 1420.3L233.45 1421.2L233.7 1419.8L233.95 1420.5L234.2 1419.7L234.45 1420.9L234.7 1419.9L234.95 1420L235.2 1420.4L235.45 1420.5L235.7 1419.4L235.95 1419.7L236.2 1419.2L236.45 1419.8L236.7 1419.7L236.95 1419.5L237.2 1419.4L237.45 1419.5L237.7 1419.3L237.95 1419.8L238.2 1420.2L238.45 1418.6L238.7 1419.4L238.95 1419.3L239.2 1419.6L239.45 1418.9L239.7 1419.3L239.95 1418.8L240.2 1419.6L240.45 1419.3L240.7 1419.1L240.95 1419.3L241.2 1419L241.45 1418.4L241.7 1419.3L241.95 1419.2L242.2 1419L242.45 1419.4L242.7 1419.5L242.95 1418.5L243.2 1418.6L243.45 1419.6L243.7 1419.5L243.95 1418.5L244.2 1418.3L244.45 1418.5L244.7 1418.6L244.95 1418.1L245.2 1418.8L245.45 1418.2L245.7 1418.2L245.95 1419.2L246.2 1418.4L246.45 1418.7L246.7 1419L246.95 1419.1L247.2 1418.6L247.45 1418.8L247.7 1418.4L247.95 1419.6L248.2 1419.1L248.45 1418.4L248.7 1418.9L248.95 1419.3L249.2 1419.2L249.45 1419.9L249.7 1419.7L249.95 1418.9L250.2 1419.1L250.45 1418.6L250.7 1419.4L250.95 1419.4L251.2 1420.6L251.45 1419.4L251.7 1418.5L251.95 1419.2L252.2 1419.6L252.45 1419L252.7 1419.2L252.95 1419.5L253.2 1419.8L253.45 1419.6L253.7 1419.3L253.95 1420.1L254.2 1419.5L254.45 1419.5L254.7 1419.1L254.95 1419.4L255.2 1420L255.45 1419L255.7 1419.7L255.95 1420L256.2 1419.6L256.45 1419.8L256.7 1419.2L256.95 1420.3L257.2 1420.2L257.45 1419.8L257.7 1418.9L257.95 1419.2L258.2 1420.2L258.45 1420.5L258.7 1419.9L258.95 1420.3L259.2 1419.4L259.45 1419.6L259.7 1419.7L259.95 1419.9L260.2 1419L260.45 1420.1L260.7 1420.3L260.95 1419.2L261.2 1419.1L261.45 1419.9L261.7 1419.4L261.95 1418.7L262.2 1420.1L262.45 1419.8L262.7 1419.5L262.95 1420.7L263.2 1419.8L263.45 1419.4L263.7 1419.8L263.95 1419.3L264.2 1419.4L264.45 1419.9L264.7 1419.5L264.95 1419.5L265.2 1420.5L265.45 1420.1L265.7 1420.1L265.95 1420L266.2 1419.9L266.45 1420.4L266.7 1419.7L266.95 1420.6L267.2 1419.3L267.45 1419.6L267.7 1419.1L267.95 1419.6L268.2 1420L268.45 1420.4L268.7 1419.4L268.95 1419.7L269.2 1419.5L269.45 1419.4L269.7 1419.1L269.95 1419.7L270.2 1418.9L270.45 1419.7L270.7 1419.6L270.95 1419.3L271.2 1419.1L271.45 1418.9L271.7 1420.4L271.95 1418.9L272.2 1420.2L272.45 1419.7L272.7 1419.3L272.95 1418.9L273.2 1419.8L273.45 1420.1L273.7 1418.9L273.95 1419.1L274.2 1419.7L274.45 1419.3L274.7 1420.1L274.95 1418.9L275.2 1419.3L275.45 1418.5L275.7 1420L275.95 1418.7L276.2 1418L276.45 1418.9L276.7 1418.8L276.95 1419.7L277.2 1418.7L277.45 1418.8L277.7 1419.1L277.95 1419.5L278.2 1418.7L278.45 1419.2L278.7 1418.9L278.95 1418.5L279.2 1418.7L279.45 1418.6L279.7 1418.2L279.95 1419.1L280.2 1417.9L280.45 1419L280.7 1418.9L280.95 1418.4L281.2 1418.1L281.45 1418.3L281.7 1418.6L281.95 1418.7L282.2 1418.5L282.45 1418.8L282.7 1418L282.95 1418.4L283.2 1417.5L283.45 1418.5L283.7 1418.2L283.95 1418L284.2 1418.7L284.45 1418.4L284.7 1416.8L284.95 1418.1L285.2 1417.4L285.45 1418.5L285.7 1419.1L285.95 1417.7L286.2 1418L286.45 1417.8L286.7 1418L286.95 1418.1L287.2 1418.4L287.45 1417.4L287.7 1418.5L287.95 1417.3L288.2 1417.9L288.45 1418.2L288.7 1418L288.95 1417.2L289.2 1417.3L289.45 1417.4L289.7 1417.6L289.95 1418.1L290.2 1417L290.45 1417.7L290.7 1417.8L290.95 1417.7L291.2 1417.7L291.45 1418.1L291.7 1417.6L291.95 1417.8L292.2 1417.6L292.45 1418.2L292.7 1416.5L292.95 1417.9L293.2 1417.2L293.45 1417.1L293.7 1416.8L293.95 1416.4L294.2 1417L294.45 1416.9L294.7 1417.4L294.95 1416.5L295.2 1417.7L295.45 1417.2L295.7 1416.9L295.95 1416.7L296.2 1416.6L296.45 1416.4L296.7 1416.7L296.95 1416.9L297.2 1416.8L297.45 1416.2L297.7 1416.7L297.95 1416.4L298.2 1416.8L298.45 1417.5L298.7 1416.9L298.95 1416.5L299.2 1415.8L299.45 1415.9L299.7 1415.7L299.95 1416.7L300.2 1416L300.45 1416.3L300.7 1416L300.95 1416.2L301.2 1416.8L301.45 1415.8L301.7 1415.9L301.95 1415.6L302.2 1416.3L302.45 1415.4L302.7 1415.3L302.95 1415.1L303.2 1415L303.45 1415.8L303.7 1416.6L303.95 1415L304.2 1415.8L304.45 1415.4L304.7 1414.7L304.95 1414.9L305.2 1414.9L305.45 1414.6L305.7 1415.7L305.95 1413.9L306.2 1414.8L306.45 1414.6L306.7 1414.1L306.95 1414.3L307.2 1414.5L307.45 1414L307.7 1414L307.95 1413.9L308.2 1412.5L308.45 1413.9L308.7 1414.1L308.95 1413.4L309.2 1413.2L309.45 1411.9L309.7 1412.3L309.95 1411.9L310.2 1411.8L310.45 1412.3L310.7 1411.3L310.95 1411.4L311.2 1410.4L311.45 1411L311.7 1410.9L311.95 1410.3L312.2 1410L312.45 1411L312.7 1409.3L312.95 1409.1L313.2 1409L313.45 1409.6L313.7 1409.8L313.95 1408.7L314.2 1407.9L314.45 1407.8L314.7 1408.2L314.95 1407L315.2 1407.8L315.45 1407.4L315.7 1406.5L315.95 1406.5L316.2 1406.2L316.45 1406.3L316.7 1404.8L316.95 1405.5L317.2 1404.4L317.45 1403.9L317.7 1404L317.95 1403.5L318.2 1402.8L318.45 1402.2L318.7 1402.2L318.95 1402.9L319.2 1402.8L319.45 1401.8L319.7 1401.7L319.95 1400.5L320.2 1400.3L320.45 1400.1L320.7 1399.1L320.95 1398.8L321.2 1398.9L321.45 1398.3L321.7 1397.5L321.95 1397.8L322.2 1397.1L322.45 1397.2L322.7 1396.4L322.95 1395.8L323.2 1395.6L323.45 1395L323.7 1394.4L323.95 1394L324.2 1394.1L324.45 1393.6L324.7 1393.4L324.95 1391.6L325.2 1391.7L325.45 1391.2L325.7 1391L325.95 1390.2L326.2 1389.7L326.45 1389.7L326.7 1388.9L326.95 1387.9L327.2 1388.4L327.45 1387.7L327.7 1386.5L327.95 1386.5L328.2 1385.3L328.45 1385.5L328.7 1384.4L328.95 1383.5L329.2 1383.1L329.45 1382.4L329.7 1382.1L329.95 1381.5L330.2 1380.8L330.45 1380L330.7 1378.1L330.95 1379L331.2 1377.6L331.45 1377.7L331.7 1377.4L331.95 1376.4L332.2 1375.5L332.45 1375L332.7 1374.3L332.95 1373.5L333.2 1372.9L333.45 1372.1L333.7 1372.2L333.95 1371L334.2 1370.7L334.45 1369.6L334.7 1369L334.95 1368.2L335.2 1367.7L335.45 1367.1L335.7 1366.2L335.95 1365.2L336.2 1364.4L336.45 1364.5L336.7 1363.1L336.95 1362.4L337.2 1362.2L337.45 1361.3L337.7 1360.4L337.95 1359.3L338.2 1359.5L338.45 1358L338.7 1357.3L338.95 1356.3L339.2 1355.1L339.45 1354.3L339.7 1354.1L339.95 1353.3L340 1352.9L341 1349.4L342 1346L343 1342.9L344 1339.1L345 1336.2L346 1332.6L347 1329.4L348 1324.9L349 1320.5L350 1316.5L351 1311.6L352 1308.4L353 1304.3L354 1300.4L355 1295.9L356 1291.4L357 1286.7L358 1281.9L359 1277.1L360 1271.3L361 1266.6L362 1261.6L363 1257.6L364 1252.4L365 1246.7L366 1239.5L367 1232.9L368 1226.5L369 1221.3L370 1216.3L371 1211.7L372 1206.5L373 1201.9L374 1196.7L375 1191.6L376 1186.6L377 1181.5L378 1176.9L379 1171.6L380 1166.7L381 1161.5L382 1156.2L383 1151.9L384 1146.3L385 1141.8L386 1136.8L387 1131.2L388 1126.4L389 1121.5L390 1116.4L391 1111.3L392 1106.8L393 1101.6L394 1096.8L395 1091.5L396 1086.6L397 1081.3L398 1076.4L399 1071L400 1064.1L401 1056.3L402 1051.4L403 1048.5L404 1045.9L405 1043.1L406 1039.9L407 1036.1L408 1031.5L409 1025.1L410 1019.9L411 1014.9L412 1009.2L413 1005.2L414 1000.2L415 996L416 990.5L417 985.3L418 980.2L419 975L420 969.6L421 964.6L422 959.3L423 954.8L424 950.4L425 946L426 940.8L427 935.9L428 931.4L429 926.5L430 921.9L431 917L432 911.8L433 907L434 902.2L435 897.4L436 892.7L437 888L438 883.2L439 879.2L440 874.5L441 870.7L442 866.2L443 861.3L444 857.5L445 853.2L446 848.8L447 845.1L448 841.1L449 836.3L450 833L451 829L452 825.2L453 821.7L454 817.6L455 814.3L456 810.9L457 807.7L458 804.8L459 801.4L460 798.6L461 796.2L462 793.4L463 791L464 787.9L465 785.8L466 783.7L467 781.8L468 779.7L469 778.4L470 776.3L471 774.8L472 773.3L473 772.2L474 770.7L475 770L476 768.8L477 767.7L478 766.7L479 766L480 765.3L481 764.6L482 763.8L483 763.3L484 762.6L485 762.5L486 761.8L487 760.9L488 761.6L489 761L490 760.5L491 760.7L492 760.5L493 761.5L494 761.3L495 761L496 761.9L497 762L498 763.1L499 762.8L500 763.2L501 764.7L502 765.6L503 766.8L504 767.7L505 770L506 772.1L507 773L508 775.9L509 777.7L510 780.9L511 782.9L512 785.4L513 788.4L514 790.9L515 793.2L516 796.4L517 799L518 802L519 806.4L520 809.1L521 812.3L522 816L523 818.9L524 822.5L525 826.6L526 830.6L527 835L528 839.7L529 843.7L530 848.5L531 853L532 856.8L533 861.3L534 865.3L535 870.1L536 874.2L537 878.5L538 882.7L539 887.9L540 892.6L541 898.2L542 903.2L543 908.3L544 914.2L545 919.7L546 925L547 931L548 936L549 941.2L550 946.6L551 951.6L552 956.8L553 962.1L554 967.6L555 972.4L556 976.7L557 981.9L558 986.2L559 991.2L560 996.2L561 1000.9L562 1006.3L563 1010.4L564 1014.6L565 1019.7L566 1023.6L567 1028L568 1031.6L569 1037L570 1041.5L571 1046.3L572 1051.4L573 1056.9L574 1062.1L575 1068.1L576 1073.1L577 1078.6L578 1084L579 1088.4L580 1092.2L581 1096.6L582 1100.2L583 1103.6L584 1107.5L585 1110.9L586 1114.2L587 1118L588 1122.5L589 1125.3L590 1129.5L591 1133.2L592 1136.8L593 1139.7L594 1143.3L595 1146.7L596 1150.2L597 1153.1L598 1156.2L599 1160.2L600 1163.6L601 1166.8L602 1169.8L603 1173.4L604 1176.6L605 1179.9L606 1182.4L607 1185.8L608 1188.7L609 1191.3L610 1194.5L611 1197.2L612 1199.8L613 1202.7L614 1204.8L615 1207.8L616 1210.4L617 1212.9L618 1215.5L619 1217.3L620 1219.6L621 1222.4L622 1224.8L623 1227.2L624 1228L625 1227.8L626 1228L627 1227.3L628 1226.8L629 1227.8L630 1228L631 1230.2L632 1232.5L633 1234.6L634 1235.9L635 1237.5L636 1237.6L637 1237.3L638 1237.1L639 1235.6L640 1233.6L641 1231.3L642 1228L643 1223.9L644 1220.3L645 1215.9L646 1211.1L647 1206L648 1200.6L649 1193.8L650 1186.5L651 1178.1L652 1170.2L653 1161.9L654 1152.4L655 1144.3L656 1136.7L657 1128.9L658 1121L659 1112.6L660 1104.7L661 1094.7L662 1084.6L663 1074.5L664 1063.5L665 1052.6L666 1040.8L667 1028.8L668 1019.8L669 1013.3L670 1010.7L671 1013.3L672 1018.1L673 1023.9L674 1032.1L675 1044.2L676 1056.9L677 1070.3L678 1082.1L679 1092.1L680 1100.2L681 1107.3L682 1113.2L683 1118.2L684 1123.6L685 1128.3L686 1134.3L687 1138.9L688 1143.5L689 1148.3L690 1154L691 1158.5L692 1163.6L693 1168.5L694 1173.3L695 1177.6L696 1180.7L697 1180.5L698 1180.6L699 1179.9L700 1176.5L701 1166.9L702 1159.6L703 1156.7L704 1158.5L705 1164.6L706 1175.8L707 1190.6L708 1205L709 1217.7L710 1228.9L711 1238.2L712 1245.3L713 1251.7L714 1256L715 1260.5L716 1264.2L717 1267.5L718 1269.9L719 1273.5L720 1275.9L721 1278.1L722 1280.3L723 1282.3L724 1284.4L725 1286.9L726 1288.5L727 1290L728 1291.7L729 1293.8L730 1294.8L731 1296.2L732 1298L733 1299.1L734 1300.3L735 1301.2L736 1302.1L737 1303.2L738 1304.4L739 1305.4L740 1306.5L741 1307.5L742 1308.2L743 1309L744 1309.5L745 1309.9L746 1311.1L747 1311.7L748 1312.5L749 1313.3L750 1313.8L751 1314.6L752 1315.6L753 1316.4L754 1317L755 1318L756 1318.6L757 1319.2L758 1320.2L759 1321.4L760 1321.5L761 1322.7L762 1323.4L763 1324.2L764 1324.4L765 1325.9L766 1326.2L767 1326.9L768 1327.8L769 1328.9L770 1329.7L771 1330.6L772 1331.8L773 1332.2L774 1332.8L775 1334L776 1334.6L777 1335.4L778 1335.6L779 1336.8L780 1337.4L781 1338.4"/>
<path clip-path="url(#cr)" stroke="#f00" d="M805.8 1396.5L807.3 1394.9L808.8 1395.5L810.3 1394.4L811.8 1394.2L813.3 1394.5L814.8 1393.4L816.3 1393.6L817.8 1393L819.3 1393.8L820.8 1392.8L822.3 1392.3L823.8 1392.3L825.3 1392.3L826.8 1392.7L828.3 1392.5L829.8 1392.6L831.3 1391.9L832.8 1391.5L834.3 1391.1L835.8 1390.4L837.3 1390L838.8 1389.6L840.3 1388.9L841.8 1387.6L843.3 1386.2L844.8 1385.8L846.3 1385.3L847.8 1382.9L849.3 1382.4L850.8 1380.9L852.3 1378.1L853.8 1375.1L855.3 1372.7L856.8 1367.9L858.3 1362.2L859.8 1357.2L861.3 1350.9L862.8 1343.3L864.3 1337.9L865.8 1329.7L867.3 1324.5L868.8 1319.3L870.3 1317.2L871.8 1315.2L873.3 1314.8L874.8 1315.4L876.3 1317.7L877.8 1321.4L879.3 1327L880.8 1331.6L882.3 1337.6L883.8 1342L885.3 1346.5L886.8 1349.2L888.3 1351.5L889.8 1353.3L891.3 1354.4L892.8 1355.7L894.3 1357.2L895.8 1357.7L897.3 1357.7L898.8 1358.3L900.3 1358.5L901.8 1359L903.3 1359L904.8 1358.7L906.3 1357.8L907.8 1357.3L909.3 1355.9L910.8 1354.1L912.3 1354L913.8 1351.8L915.3 1350.7L916.8 1349.1L918.3 1348.2L919.8 1346L921.3 1345.7L922.8 1344.4L924.3 1342.3L925.8 1333L927.3 1329.7L928.8 1327.1L930.3 1323.9L931.8 1318.8L933.3 1313.3L934.8 1309.2L936.3 1305.5L937.8 1301.9L939.3 1296.6L940.8 1291.4L942.3 1289.3L943.8 1284.8L945.3 1282.9L946.8 1279.7L948.3 1276.2L949.8 1272L951.3 1268L952.8 1262.4L954.3 1256.8L955.8 1253.2L957.3 1249.5L958.8 1246L960.3 1242.6L961.8 1236.9L963.3 1233.2L964.8 1229.2L966.3 1226.5L967.8 1223.6L969.3 1221.5L970.8 1219.3L972.3 1217.7L973.8 1215.6L975.3 1213.2L976.8 1210.8L978.3 1209.3L979.8 1207.6L981.3 1207L982.8 1205.9L984.3 1205.5L985.8 1206L987.3 1206L988.8 1205.6L990.3 1205.6L991.8 1206.7L993.3 1206.2L994.8 1206.2L996.3 1209.4L997.8 1210.1L999.3 1211.8L1000.8 1214L1002.3 1215.4L1003.8 1218.9L1005.3 1221L1006.8 1225.4L1008.3 1230.4L1009.8 1234.9L1011.3 1240.8L1012.8 1244.3L1014.3 1249L1015.8 1253.2L1017.3 1256.8L1018.8 1260.5L1020.3 1263.8L1021.8 1268.2L1023.3 1270.6L1024.8 1274.6L1026.3 1278.6L1027.8 1281.6L1029.3 1284.9L1030.8 1288.1L1032.3 1291L1033.8 1293.3L1035.3 1295.9L1036.8 1297.5L1038.3 1300.2L1039.8 1300.9L1041.3 1304L1042.8 1305.1L1044.3 1306L1045.8 1306.4L1047.3 1307.1L1048.8 1308.7L1050.3 1308.9L1051.8 1309.6L1053.3 1309.4L1054.8 1310.5L1056.3 1309.9L1057.8 1310.5L1059.3 1309.8L1060.8 1310.1L1062.3 1310.1L1063.8 1309.1L1065.3 1308.4L1066.8 1308.3L1068.3 1307.3L1069.8 1307.3L1071.3 1305.1L1072.8 1305.8L1074.3 1305L1075.8 1302.9L1077.3 1301.8L1078.8 1301.5L1080.3 1299.4L1081.8 1298.5L1083.3 1297.8L1084.8 1296.2L1086.3 1295.3L1087.8 1293.4L1089.3 1292.6L1090.8 1291.9L1092.3 1290.6L1093.8 1288.7L1095.3 1289.2L1096.8 1288.4L1098.3 1287.4L1099.8 1288L1101.3 1286.3L1102.8 1287.7L1104.3 1286.5L1105.8 1287.4L1107.3 1286.7L1108.8 1286.2L1110.3 1287L1111.8 1287.3L1113.3 1287.7L1114.8 1288.2L1116.3 1287.5L1117.8 1288.2L1119.3 1288.3L1120.8 1287.7L1122.3 1287.1L1123.8 1286.1L1125.3 1286.2L1126.8 1286.5L1128.3 1286.9L1129.8 1287.8L1131.3 1289.7L1132.8 1289L1134.3 1290.3L1135.8 1290.6L1137.3 1292.5L1138.8 1297.4L1140.3 1300L1141.8 1302.4L1143.3 1304.4L1144.8 1305.1L1146.3 1307.3L1147.8 1309L1149.3 1309.8L1150.8 1310.8L1152.3 1313L1153.8 1312.9L1155.3 1313.7L1156.8 1314.2L1158.3 1314.7L1159.8 1314.8L1161.3 1315.1L1162.8 1314.5L1164.3 1312.4L1165.8 1310.4L1167.3 1308.8L1168.8 1305.2L1170.3 1301.9L1171.8 1298L1173.3 1292.5L1174.8 1284.1L1176.3 1275.3L1177.8 1268.6L1179.3 1260.9L1180.8 1256.7L1182.3 1253.8L1183.8 1250.1L1185.3 1246.3L1186.8 1243.8L1188.3 1242.8L1189.8 1240.8L1191.3 1239.7L1192.8 1239.6L1194.3 1239.3L1195.8 1240.4L1197.3 1242.9L1198.8 1243.1L1200.3 1243.7L1201.8 1244.1L1203.3 1245.2L1204.8 1245.2L1206.3 1246.1L1207.8 1245.9L1209.3 1246.6L1210.8 1245.9L1212.3 1245.7L1213.8 1245L1215.3 1245.1L1216.8 1245.3L1218.3 1245.7L1219.8 1243.2L1221.3 1242.7L1222.8 1242.8L1224.3 1242.3L1225.8 1241.1L1227.3 1240.5L1228.8 1238.6L1230.3 1237.9L1231.8 1236.8L1233.3 1234.9L1234.8 1232.9L1236.3 1232.9L1237.8 1233.5L1239.3 1234.1L1240.8 1234.2L1242.3 1234.4L1243.8 1235.6L1245.3 1236.5L1246.8 1236.4L1248.3 1236.7L1249.8 1238L1251.3 1238.4L1252.8 1238.9L1254.3 1238.8L1255.8 1238.8L1257.3 1239.1L1258.8 1239L1260.3 1239.2L1261.8 1239.6L1263.3 1239.7L1264.8 1240L1266.3 1238L1267.8 1237L1269.3 1234.9L1270.8 1233.9L1272.3 1231.4L1273.8 1229.2L1275.3 1227.9L1276.8 1226.2L1278.3 1224.7L1279.8 1224.6L1281.3 1223.4L1282.8 1223L1284.3 1222.1L1285.8 1221.4L1287.3 1220.6L1288.8 1219.6L1290.3 1219.9L1291.8 1219.2L1293.3 1219.1L1294.8 1218.6L1296.3 1218.3L1297.8 1218.4L1299.3 1219.6L1300.8 1220.4L1302.3 1220.2L1303.8 1220.9L1305.3 1221.7L1306.8 1221.2L1308.3 1221.7L1309.8 1221.4L1311.3 1222.4L1312.8 1221.8L1314.3 1221.3L1315.8 1220.4L1317.3 1220.2L1318.8 1219.6L1320.3 1218.2L1321.8 1217.5L1323.3 1218.1L1324.8 1218.2L1326.3 1220.2L1327.8 1221.9L1329.3 1223.2L1330.8 1225.4L1332.3 1228.1L1333.8 1230.4L1335.3 1232.9L1336.8 1235.5L1338.3 1237.3L1339.8 1238.3L1341.3 1239.7L1342.8 1241.4L1344.3 1242.8L1345.8 1243.9L1347.3 1243.9L1348.8 1245.7L1350.3 1246.5L1351.8 1247.1L1353.3 1248.4L1354.8 1249.5L1356.3 1250.9L1357.8 1250.7L1359.3 1252.4L1360.8 1253.1L1362.3 1254.1L1363.8 1255.7L1365.3 1256.7L1366.8 1257.1L1368.3 1258.6L1369.8 1259.9L1371.3 1260.3L1372.8 1262.2L1374.3 1262.7L1375.8 1263.7L1377.3 1264.6L1378.8 1266.1L1380.3 1266.1L1381.8 1266.8L1383.3 1268.5L1384.8 1268.3L1386.3 1269L1387.8 1269.2L1389.3 1270.8L1390.8 1271.1L1392.3 1271.6L1393.8 1271.8L1395.3 1271.7L1396.8 1271.3L1398.3 1270.9L1399.8 1271L1401.3 1270.4L1402.8 1270.7L1404.3 1269.4L1405.8 1269.2L1407.3 1268.7L1408.8 1269.5L1410.3 1268.1L1411.8 1268.7L1413.3 1268.7L1414.8 1267.8L1416.3 1267.9L1417.8 1266.4L1419.3 1266.7L1420.8 1265.6L1422.3 1265.7L1423.8 1265L1425.3 1264.2L1426.8 1264.6L1428.3 1264.2L1429.8 1263.7L1431.3 1263.7L1432.8 1263.6L1434.3 1264.6L1435.8 1266.1L1437.3 1265.7L1438.8 1267.2L1440.3 1268L1441.8 1269.9L1443.3 1271.4L1444.8 1273L1446.3 1274.3L1447.8 1276.9L1449.3 1279.9L1450.8 1281.7L1452.3 1284.3L1453.8 1285.4L1455.3 1286L1456.8 1287.9L1458.3 1288.5L1459.8 1288.3L1461.3 1288.4L1462.8 1288.5L1464.3 1288L1465.8 1288.3L1467.3 1288.1L1468.8 1287.6L1470.3 1289.2L1471.8 1289.9L1473.3 1290.7L1474.8 1292.5L1476.3 1293.8L1477.8 1295.9L1479.3 1298L1480.8 1299.5L1482.3 1300.6L1483.8 1302.6L1485.3 1304.3L1486.8 1304.6L1488.3 1304.8L1489.8 1305.2L1491.3 1304.7L1492.8 1303L1494.3 1301.5L1495.8 1299L1497.3 1296.7L1498.8 1293.6L1500.3 1290.1L1501.8 1284.6L1503.3 1279.7L1504.8 1272.3L1506.3 1265.5L1507.8 1257.9L1509.3 1248.1L1510.8 1228.1L1512.3 1211.9L1513.8 1203.7L1515.3 1194.6L1516.8 1183.6L1518.3 1170.3L1519.8 1158.7L1521.3 1147.6L1522.8 1137.8L1524.3 1129.1L1525.8 1123.3L1527.3 1118.6L1528.8 1113.3L1530.3 1111.4L1531.8 1110.8L1533.3 1111.4L1534.8 1112.3L1536.3 1115.8L1537.8 1120.4L1539.3 1126L1540.8 1132.4L1542.3 1138.8L1543.8 1145.8L1545.3 1152.4L1546.8 1159.6L1548.3 1164.3L1549.8 1166.7L1551.3 1167.3L1552.8 1168.3L1554.3 1167.7L1555.8 1165.5L1557.3 1163.3L1558.8 1162.6L1560.3 1161L1561.8 1159.6L1563.3 1160.5L1564.8 1160.5L1566.3 1159.8L1567.8 1159.3L1569.3 1158L1570.8 1156.5L1572.3 1153.3L1573.8 1150.7L1575.3 1147.8L1576.8 1144L1578.3 1139.2L1579.8 1136.3L1581.3 1135L1582.8 1133.1L1584.3 1132.9L1585.8 1134L1587.3 1134.7L1588.8 1133.9L1590.3 1131.7L1591.8 1130.3L1593.3 1125.4L1594.8 1120.5L1596.3 1112.6L1597.8 1104L1599.3 1095.1L1600.8 1085L1602.3 1075.7L1603.8 1065.5L1605.3 1053.7L1606.8 1043.5L1608.3 1034.1L1609.8 1028.9L1611.3 1025.4L1612.8 1025.4L1614.3 1027.3L1615.8 1033.6L1617.3 1044.7L1618.8 1059.7L1620.3 1074.7L1621.8 1086.5L1623.3 1096L1624.8 1098.7L1626.3 1100L1627.8 1097.4L1629.3 1092.1L1630.8 1084.7L1632.3 1074.1L1633.8 1062.8L1635.3 1051.5L1636.8 1038.8L1638.3 1026.6L1639.8 1015.6L1641.3 1002.9L1642.8 993.8L1644.3 985.3L1645.8 980.3L1647.3 974.9L1648.8 971.4L1650.3 967.4L1651.8 965L1653.3 962.7L1654.8 960.9L1656.3 959.5L1657.8 957.5L1659.3 953.3L1660.8 949.7L1662.3 944.4L1663.8 937.8L1665.3 930.5L1666.8 920.1L1668.3 912.2L1669.8 902.8L1671.3 894.1L1672.8 884.1L1674.3 875.8L1675.8 864.9L1677.3 857.1L1678.8 851.1L1680.3 847L1681.8 844.9L1683.3 843.7L1684.8 841.8L1686.3 840.7L1687.8 839.7L1689.3 837.2L1690.8 835.5L1692.3 833.6L1693.8 831.3L1695.3 827.6L1696.8 825.4L1698.3 824.2L1699.8 823.4L1701.3 823.8L1702.8 824.3L1704.3 825.5L1705.8 827.1L1707.3 830.8L1708.8 836L1710.3 841.3L1711.8 849.4L1713.3 858.9L1714.8 871.8L1716.3 887.5L1717.8 904L1719.3 921.5L1720.8 940.1L1722.3 958.6L1723.8 976.2L1725.3 990L1726.8 1006.8L1728.3 1022.7L1729.8 1039.2L1731.3 1054.7L1732.8 1069.4L1734.3 1085.6L1735.8 1097.6L1737.3 1109.6L1738.8 1119.9L1740.3 1130.4L1741.8 1140.2L1743.3 1149.4L1744.8 1157.8L1746.3 1164.6L1747.8 1171.5L1749.3 1176.8L1750.8 1181.5L1752.3 1185L1753.8 1187.7L1755.3 1189L1756.8 1189L1758.3 1188.1L1759.8 1186.6L1761.3 1184.2L1762.8 1183L1764.3 1179.7L1765.8 1178L1767.3 1175.9L1768.8 1175L1770.3 1172.4L1771.8 1173.2L1773.3 1171.5L1774.8 1170.9L1776.3 1171.8L1777.8 1173.4L1779.3 1173.7L1780.8 1174.5L1782.3 1176.8L1783.8 1180.7L1785.3 1183.4L1786.8 1188L1788.3 1191.9L1789.8 1196.8L1791.3 1199.7L1792.8 1204.2L1794.3 1207.2L1795.8 1210.8L1797.3 1215.2L1798.8 1218.5L1800.3 1220.8L1801.8 1224.5L1803.3 1226.9L1804.8 1228.5L1806.3 1230.8L1807.8 1232.8L1809.3 1234.6L1810.8 1236.7L1812.3 1238.8L1813.8 1241.2L1815.3 1243.2L1816.8 1246.2L1818.3 1248.3L1819.8 1251.6L1821.3 1254.2L1822.8 1256.5L1824.3 1260.1L1825.8 1263L1827.3 1265L1828.8 1265.8L1830.3 1267.9L1831.8 1267.6L1833.3 1266.4L1834.8 1264.4L1836.3 1262L1837.8 1259.4L1839.3 1255.2L1840.8 1251L1842.3 1247L1843.8 1243.1L1845.3 1239.9L1846.8 1237.8L1848.3 1235L1849.8 1234.1L1851.3 1233.1L1852.8 1233L1854.3 1233.9L1855.8 1234.6L1857.3 1234.4L1858.8 1235.5L1860.3 1237.4L1861.8 1238.1L1863.3 1239.2L1864.8 1240L1866.3 1241.2L1867.8 1242.7L1869.3 1243.4L1870.8 1244.3L1872.3 1246L1873.8 1247.8L1875.3 1248.6L1876.8 1251.3L1878.3 1253.3L1879.8 1255.2L1881.3 1257.9L1882.8 1260.1L1884.3 1262.4L1885.8 1264.3L1887.3 1265.3L1888.8 1266.7L1890.3 1268.8L1891.8 1269.5L1893.3 1270.6L1894.8 1271.2L1896.3 1272L1897.8 1271.1L1899.3 1272.2L1900.8 1271.5L1902.3 1272.2L1903.8 1272.4L1905.3 1271.1L1906.8 1271.6L1908.3 1271.1L1909.8 1270.8L1911.3 1270.4L1912.8 1269.2L1914.3 1268.5L1915.8 1268.2L1917.3 1267.1L1918.8 1265.4L1920.3 1263.8L1921.8 1264.1L1923.3 1262.5L1924.8 1261.1L1926.3 1259.5L1927.8 1258.7L1929.3 1258.1L1930.8 1256.6L1932.3 1256.6L1933.8 1254.7L1935.3 1253.5L1936.8 1251.3L1938.3 1249.6L1939.8 1247.5L1941.3 1245.6L1942.8 1242.7L1944.3 1239.7L1945.8 1236.4L1947.3 1232.7L1948.8 1229.6L1950.3 1225.5L1951.8 1222.5L1953.3 1220.8L1954.8 1220L1956.3 1218.3L1957.8 1217.9L1959.3 1217.6L1960.8 1218.1L1962.3 1218.6L1963.8 1218.8L1965.3 1220.2L1966.8 1222.2L1968.3 1223.9L1969.8 1225.5L1971.3 1227.2L1972.8 1228.5L1974.3 1230.1L1975.8 1231.9L1977.3 1232.2L1978.8 1233.8L1980.3 1233.9L1981.8 1235.1L1983.3 1235.4L1984.8 1235.4L1986.3 1236.1L1987.8 1235.3L1989.3 1235L1990.8 1234.3L1992.3 1233.1L1993.8 1232.6L1995.3 1230.3L1996.8 1228.8L1998.3 1226.3L1999.8 1224.4L2001.3 1221.8L2002.8 1219.2L2004.3 1216.7L2005.8 1214.7L2007.3 1213.2L2008.8 1210.6L2010.3 1208.9L2011.8 1207.2L2013.3 1207L2014.8 1205.4L2016.3 1204.1L2017.8 1203.4L2019.3 1202.4L2020.8 1202.2L2022.3 1202.2L2023.8 1202.4L2025.3 1202.5L2026.8 1203.2L2028.3 1204.4L2029.8 1205L2031.3 1204.8L2032.8 1206.4L2034.3 1207.5L2035.8 1207.3L2037.3 1208.1L2038.8 1207.6L2040.3 1208.5L2041.8 1207.7L2043.3 1207.6L2044.8 1208L2046.3 1208.9L2047.8 1207.5L2049.3 1206.9L2050.8 1207.3L2052.3 1206.9L2053.8 1207.2L2055.3 1205.7L2056.8 1205.3L2058.3 1205.5L2059.8 1205.5L2061.3 1205.3L2062.8 1205.3L2064.3 1204.1L2065.8 1204.1L2067.3 1204.2L2068.8 1204.4L2070.3 1204L2071.8 1203.4L2073.3 1203L2074.8 1203.6L2076.3 1203.4L2077.8 1203.9L2079.3 1202.5L2080.8 1203.1L2082.3 1201.8L2083.8 1202L2085.3 1202L2086.8 1202.1L2088.3 1202L2089.8 1202.3L2091.3 1202.5L2092.8 1202.4L2094.3 1202.9L2095.8 1202.5L2097.3 1202.3L2098.8 1202.7L2100.3 1201.9L2101.8 1201.5L2103.3 1201L2104.8 1200.4L2106.3 1199.9L2107.8 1198.4L2109.3 1198.1L2110.8 1197.1L2112.3 1195.7L2113.8 1193.7L2115.3 1191.7L2116.8 1190.6L2118.3 1189.3L2119.8 1188.2L2121.3 1186.5L2122.8 1185.2L2124.3 1184.8L2125.8 1182.9L2127.3 1182.8L2128.8 1182L2130.3 1180.5L2131.8 1180.7L2133.3 1180.1L2134.8 1179.7L2136.3 1179.2L2137.8 1179.5L2139.3 1180.5L2140.8 1180.4L2142.3 1181L2143.8 1180.8L2145.3 1181.5L2146.8 1181.7L2148.3 1181.3L2149.8 1180.9L2151.3 1180.9L2152.8 1179.5L2154.3 1176.6L2155.8 1173.9L2157.3 1171.1L2158.8 1168.1L2160.3 1163.6L2161.8 1161.3L2163.3 1159L2164.8 1155.7L2166.3 1154.8L2167.8 1152.2L2169.3 1153.1L2170.8 1152.4L2172.3 1152.5L2173.8 1155.1L2175.3 1156.9L2176.8 1159.3L2178.3 1161.8L2179.8 1163.5L2181.3 1165.4L2182.8 1167.5L2184.3 1169.5L2185.8 1171.3L2187.3 1172.2L2188.8 1173.6L2190.3 1175.1L2191.8 1176L2193.3 1178L2194.8 1178.7L2196.3 1177.5L2197.8 1177.8L2199.3 1177.5L2200.8 1177.5L2202.3 1178.1L2203.8 1176.4L2205.3 1174.8L2206.8 1173L2208.3 1170.4L2209.8 1167.5L2211.3 1165.6L2212.8 1164.8L2214.3 1164.2L2215.8 1163.9L2217.3 1163.9L2218.8 1162.9L2220.3 1162.9L2221.8 1161.9L2223.3 1162.2L2224.8 1162.5L2226.3 1162.5L2227.8 1164.5L2229.3 1164.7L2230.8 1167.6L2232.3 1169.2L2233.8 1170.5L2235.3 1172.1L2236.8 1174L2238.3 1175.5L2239.8 1176.2L2241.3 1177.6L2242.8 1177.7L2244.3 1178.9L2245.8 1179.4L2247.3 1179L2248.8 1180.3L2250.3 1180.2L2251.8 1180.1L2253.3 1181.3L2254.8 1181.9L2256.3 1182.8"/>
<path clip-path="url(#cl)" stroke="#0f0" d="M156.2 1205.3L156.45 1206.5L156.7 1206.2L156.95 1205.2L157.2 1206L157.45 1207.5L157.7 1206.3L157.95 1206.1L158.2 1207.5L158.45 1207.6L158.7 1207.7L158.95 1206.3L159.2 1206.9L159.45 1207.9L159.7 1206.6L159.95 1206.6L160.2 1207.9L160.45 1208.5L160.7 1206.4L160.95 1205.3L161.2 1206.3L161.45 1206.7L161.7 1207.4L161.95 1208.1L162.2 1207.5L162.45 1207.1L162.7 1207.9L162.95 1207.1L163.2 1207.8L163.45 1207.4L163.7 1210.2L163.95 1208.8L164.2 1207.6L164.45 1207.5L164.7 1208.1L164.95 1207.2L165.2 1207.9L165.45 1208L165.7 1209.3L165.95 1208.2L166.2 1207.9L166.45 1207.5L166.7 1207.6L166.95 1208.5L167.2 1208.3L167.45 1209.4L167.7 1207.9L167.95 1209.3L168.2 1208.6L168.45 1208.3L168.7 1206.7L168.95 1207.2L169.2 1208.8L169.45 1209.3L169.7 1208.3L169.95 1208.7L170.2 1207.7L170.45 1207.7L170.7 1207.4L170.95 1208.6L171.2 1208.1L171.45 1207.5L171.7 1207.4L171.95 1208L172.2 1207.8L172.45 1206.8L172.7 1208.8L172.95 1207.5L173.2 1207.3L173.45 1208.4L173.7 1208L173.95 1207L174.2 1207.5L174.45 1206.1L174.7 1206.4L174.95 1205L175.2 1207.8L175.45 1205.2L175.7 1207.3L175.95 1206L176.2 1205.8L176.45 1206.4L176.7 1206.7L176.95 1206.9L177.2 1207.8L177.45 1206.6L177.7 1207L177.95 1205.8L178.2 1206.8L178.45 1206.3L178.7 1205.7L178.95 1206L179.2 1205.9L179.45 1206.1L179.7 1206.2L179.95 1205.4L180.2 1205.2L180.45 1206.3L180.7 1204.3L180.95 1205.1L181.2 1206.8L181.45 1203.3L181.7 1204.9L181.95 1206L182.2 1204L182.45 1207.4L182.7 1203.2L182.95 1206.4L183.2 1206.4L183.45 1205.9L183.7 1204.9L183.95 1205.3L184.2 1204.2L184.45 1205.6L184.7 1204L184.95 1204.6L185.2 1205.6L185.45 1203.8L185.7 1204.4L185.95 1204.8L186.2 1203.5L186.45 1205.5L186.7 1204.8L186.95 1203.3L187.2 1204.4L187.45 1203.8L187.7 1203.9L187.95 1204.4L188.2 1203.8L188.45 1205.1L188.7 1203.7L188.95 1205L189.2 1204.2L189.45 1204.9L189.7 1203.7L189.95 1203.7L190.2 1203.1L190.45 1204.5L190.7 1204.8L190.95 1205.7L191.2 1205L191.45 1204.1L191.7 1203.7L191.95 1204.1L192.2 1203.8L192.45 1205L192.7 1204.5L192.95 1203L193.2 1203.1L193.45 1204.7L193.7 1203.8L193.95 1203.4L194.2 1204.5L194.45 1203.2L194.7 1203.2L194.95 1203L195.2 1201.8L195.45 1204.1L195.7 1202.3L195.95 1202.8L196.2 1202.6L196.45 1203.8L196.7 1203.1L196.95 1203.1L197.2 1201.7L197.45 1202.9L197.7 1201.8L197.95 1203.2L198.2 1203.2L198.45 1202.8L198.7 1204.5L198.95 1203.2L199.2 1203.2L199.45 1202.8L199.7 1202.5L199.95 1203.4L200.2 1203.4L200.45 1201.4L200.7 1203.3L200.95 1202.8L201.2 1203.2L201.45 1202.7L201.7 1201.3L201.95 1201.3L202.2 1203.7L202.45 1202.4L202.7 1201L202.95 1202.4L203.2 1201.8L203.45 1200.5L203.7 1200.1L203.95 1200.7L204.2 1202.2L204.45 1201.9L204.7 1201.7L204.95 1202.1L205.2 1202.4L205.45 1200.1L205.7 1201.6L205.95 1201.1L206.2 1200.8L206.45 1201.3L206.7 1201.7L206.95 1201.6L207.2 1200.6L207.45 1201.4L207.7 1203.5L207.95 1200.9L208.2 1200.4L208.45 1202L208.7 1202.3L208.95 1202.2L209.2 1200.9L209.45 1202.6L209.7 1201.1L209.95 1200.8L210.2 1201.3L210.45 1201.7L210.7 1202.4L210.95 1202.3L211.2 1201.8L211.45 1202.6L211.7 1201.9L211.95 1202.5L212.2 1200.6L212.45 1200.5L212.7 1202.4L212.95 1200.6L213.2 1201.5L213.45 1201.7L213.7 1201.4L213.95 1201.4L214.2 1203L214.45 1199.7L214.7 1202.5L214.95 1203.7L215.2 1201.8L215.45 1201.8L215.7 1202.4L215.95 1203.3L216.2 1200.8L216.45 1201.9L216.7 1201.6L216.95 1202.3L217.2 1201.9L217.45 1202.3L217.7 1201.4L217.95 1201.8L218.2 1201.2L218.45 1201.2L218.7 1201.6L218.95 1201.6L219.2 1200.8L219.45 1203L219.7 1201.6L219.95 1200.5L220.2 1202.6L220.45 1201L220.7 1202.1L220.95 1201.6L221.2 1201.8L221.45 1201.7L221.7 1201.1L221.95 1201.6L222.2 1203.2L222.45 1199.6L222.7 1201.5L222.95 1201.8L223.2 1200.5L223.45 1200.2L223.7 1203.2L223.95 1201L224.2 1203L224.45 1201.7L224.7 1201.3L224.95 1201.6L225.2 1201.7L225.45 1202.2L225.7 1201.5L225.95 1201.2L226.2 1201.2L226.45 1202.2L226.7 1201.7L226.95 1200.2L227.2 1200.4L227.45 1201.2L227.7 1200.4L227.95 1200.6L228.2 1200.1L228.45 1200.6L228.7 1201.2L228.95 1201.7L229.2 1201L229.45 1203.2L229.7 1203L229.95 1208.5L230.2 1209.6L230.45 1210L230.7 1207.2L230.95 1202.1L231.2 1202L231.45 1201.1L231.7 1202.2L231.95 1199.3L232.2 1202.1L232.45 1200.2L232.7 1201L232.95 1198.2L233.2 1200.5L233.45 1200L233.7 1200.9L233.95 1200.3L234.2 1199.3L234.45 1201L234.7 1200.8L234.95 1200.6L235.2 1201L235.45 1201L235.7 1200L235.95 1198.9L236.2 1198.8L236.45 1201.1L236.7 1200.6L236.95 1200L237.2 1199.6L237.45 1199.9L237.7 1199.9L237.95 1199.6L238.2 1199.3L238.45 1201.7L238.7 1200L238.95 1199.3L239.2 1198.7L239.45 1199.2L239.7 1200.4L239.95 1200.4L240.2 1199.6L240.45 1199.8L240.7 1199.5L240.95 1198.8L241.2 1200.8L241.45 1200L241.7 1201.8L241.95 1199L242.2 1199.6L242.45 1200.4L242.7 1199.4L242.95 1198.5L243.2 1198.8L243.45 1199.7L243.7 1199.9L243.95 1199.5L244.2 1200.5L244.45 1200.4L244.7 1199.9L244.95 1199.6L245.2 1199.4L245.45 1200L245.7 1200.3L245.95 1199.6L246.2 1199.9L246.45 1199.2L246.7 1198.3L246.95 1198.6L247.2 1200.1L247.45 1199.9L247.7 1200.8L247.95 1199.5L248.2 1200.2L248.45 1200.6L248.7 1200.3L248.95 1198.9L249.2 1199.2L249.45 1199.5L249.7 1198.5L249.95 1199.7L250.2 1200.2L250.45 1198.9L250.7 1201L250.95 1199L251.2 1199.1L251.45 1199L251.7 1198.6L251.95 1199.5L252.2 1199.2L252.45 1200.6L252.7 1199.6L252.95 1199.6L253.2 1198.9L253.45 1197.8L253.7 1199L253.95 1198.3L254.2 1199.8L254.45 1199L254.7 1200.4L254.95 1199.6L255.2 1199.7L255.45 1199.1L255.7 1199.1L255.95 1199.5L256.2 1199.7L256.45 1198.3L256.7 1199.3L256.95 1201.1L257.2 1198.8L257.45 1198.6L257.7 1198.3L257.95 1197.6L258.2 1199.9L258.45 1198.9L258.7 1199.1L258.95 1200.4L259.2 1201L259.45 1198.1L259.7 1199.7L259.95 1199.4L260.2 1199.2L260.45 1199.3L260.7 1198.8L260.95 1200.2L261.2 1199.4L261.45 1199.1L261.7 1199.9L261.95 1199.6L262.2 1199.2L262.45 1199.1L262.7 1200.4L262.95 1199.3L263.2 1198.8L263.45 1198.1L263.7 1198.5L263.95 1197.9L264.2 1198.9L264.45 1199.1L264.7 1197.1L264.95 1198.9L265.2 1199.4L265.45 1199L265.7 1198L265.95 1199.9L266.2 1198.2L266.45 1197.8L266.7 1197.9L266.95 1198.8L267.2 1199.7L267.45 1199.9L267.7 1199L267.95 1197.8L268.2 1198.3L268.45 1198.1L268.7 1198.7L268.95 1197.3L269.2 1198.8L269.45 1199.3L269.7 1198.5L269.95 1198.9L270.2 1197.6L270.45 1197.1L270.7 1197.7L270.95 1199.1L271.2 1198.9L271.45 1197.5L271.7 1198.8L271.95 1197.3L272.2 1198.8L272.45 1197.7L272.7 1196.7L272.95 1197.7L273.2 1196.1L273.45 1195.8L273.7 1195.2L273.95 1196.5L274.2 1196.1L274.45 1195.9L274.7 1195.5L274.95 1196.9L275.2 1195.1L275.45 1194.7L275.7 1196.3L275.95 1196.3L276.2 1195.2L276.45 1193.2L276.7 1194.1L276.95 1195L277.2 1194.3L277.45 1195.5L277.7 1192.8L277.95 1194.4L278.2 1193.1L278.45 1194.7L278.7 1193.3L278.95 1194.1L279.2 1192.5L279.45 1191.6L279.7 1191.7L279.95 1192L280.2 1191.5L280.45 1193.2L280.7 1193.2L280.95 1192.1L281.2 1190.7L281.45 1191.4L281.7 1190.8L281.95 1192.9L282.2 1193.2L282.45 1196.2L282.7 1199.4L282.95 1200.2L283.2 1199.8L283.45 1195.3L283.7 1192.5L283.95 1189.9L284.2 1188L284.45 1187.8L284.7 1189.2L284.95 1186.7L285.2 1186.4L285.45 1186.7L285.7 1185.9L285.95 1185.5L286.2 1184.7L286.45 1183.1L286.7 1177.4L286.95 1178.1L287.2 1179.9L287.45 1182.6L287.7 1184.6L287.95 1185.6L288.2 1187.2L288.45 1186.1L288.7 1186.5L288.95 1186.8L289.2 1187L289.45 1187L289.7 1188.2L289.95 1187.5L290.2 1187.9L290.45 1187.9L290.7 1187.2L290.95 1187.6L291.2 1187.6L291.45 1188.8L291.7 1188.2L291.95 1188.1L292.2 1189.4L292.45 1189.8L292.7 1188L292.95 1191.2L293.2 1189.9L293.45 1190L293.7 1191.2L293.95 1190.5L294.2 1190.1L294.45 1192.8L294.7 1190.1L294.95 1191.1L295.2 1192.2L295.45 1190.7L295.7 1191.7L295.95 1192.3L296.2 1194.2L296.45 1191.5L296.7 1192.4L296.95 1193.1L297.2 1192.7L297.45 1191.7L297.7 1193.2L297.95 1193.1L298.2 1193.4L298.45 1194.1L298.7 1194.1L298.95 1193.6L299.2 1193.6L299.45 1192.4L299.7 1193.3L299.95 1193.7L300.2 1193.2L300.45 1193.6L300.7 1192.9L300.95 1195L301.2 1195.6L301.45 1193.4L301.7 1194.1L301.95 1193.6L302.2 1194.9L302.45 1194.2L302.7 1193.9L302.95 1193.7L303.2 1194L303.45 1193L303.7 1194.5L303.95 1193.3L304.2 1194.3L304.45 1193.9L304.7 1194.6L304.95 1193.5L305.2 1194.3L305.45 1192.4L305.7 1193.5L305.95 1192.6L306.2 1192.7L306.45 1192.3L306.7 1192.9L306.95 1190L307.2 1191.8L307.45 1189.9L307.7 1192L307.95 1188.9L308.2 1189.6L308.45 1188.7L308.7 1191.4L308.95 1188.6L309.2 1189.6L309.45 1188.8L309.7 1187.4L309.95 1188.5L310.2 1189.1L310.45 1188.1L310.7 1188.8L310.95 1187.4L311.2 1187.4L311.45 1186.8L311.7 1187.2L311.95 1188.3L312.2 1186.6L312.45 1186.2L312.7 1185.2L312.95 1184.9L313.2 1186.6L313.45 1184.1L313.7 1184L313.95 1184.5L314.2 1184L314.45 1185.9L314.7 1181.9L314.95 1184.2L315.2 1184.3L315.45 1182.5L315.7 1182.8L315.95 1183.6L316.2 1184.5L316.45 1182.1L316.7 1181.4L316.95 1183.5L317.2 1183.9L317.45 1182.1L317.7 1180.2L317.95 1183.4L318.2 1181.8L318.45 1182.8L318.7 1181.6L318.95 1181.2L319.2 1180.9L319.45 1182.5L319.7 1182.3L319.95 1178.9L320.2 1179.8L320.45 1182.1L320.7 1180L320.95 1178.9L321.2 1180L321.45 1179.7L321.7 1179.6L321.95 1179L322.2 1179L322.45 1178.6L322.7 1179.1L322.95 1177.8L323.2 1177.9L323.45 1177.7L323.7 1178.6L323.95 1177.4L324.2 1176.6L324.45 1176.6L324.7 1175.6L324.95 1174.4L325.2 1171.8L325.45 1170.8L325.7 1168.7L325.95 1166.6L326.2 1165.8L326.45 1166.4L326.7 1165.7L326.95 1164.8L327.2 1163.3L327.45 1162.8L327.7 1164.3L327.95 1164.4L328.2 1164.2L328.45 1162.3L328.7 1164L328.95 1162.5L329.2 1163.1L329.45 1162.9L329.7 1161.8L329.95 1161.7L330.2 1160.3L330.45 1161L330.7 1160L330.95 1161.4L331.2 1160.7L331.45 1160.9L331.7 1160L331.95 1158.7L332.2 1158.8L332.45 1157.5L332.7 1157.6L332.95 1156.6L333.2 1154.9L333.45 1154.9L333.7 1154.1L333.95 1153L334.2 1153L334.45 1152.7L334.7 1150.3L334.95 1149.4L335.2 1147.3L335.45 1148L335.7 1147.1L335.95 1145.2L336.2 1146.2L336.45 1145.7L336.7 1144.1L336.95 1143.7L337.2 1142.7L337.45 1143.2L337.7 1141L337.95 1141.3L338.2 1142.2L338.45 1140.3L338.7 1140L338.95 1139L339.2 1137.7L339.45 1138L339.7 1137.7L339.95 1136.2L340 1137L341 1135.4L342 1132.8L343 1128.1L344 1125L345 1120.7L346 1118.3L347 1114L348 1110.1L349 1105L350 1100.9L351 1098.1L352 1094.8L353 1090.8L354 1087.7L355 1083.5L356 1078.4L357 1073L358 1068.4L359 1065.8L360 1062.4L361 1058.6L362 1055L363 1051.4L364 1048.7L365 1044.8L366 1041.5L367 1037.3L368 1033.8L369 1030.1L370 1025L371 1020.3L372 1016.2L373 1012.4L374 1007.1L375 1003L376 997.2L377 992.2L378 986.6L379 982.1L380 978.2L381 972.6L382 967.7L383 962.5L384 957.3L385 952.7L386 948.5L387 944.4L388 940L389 935.5L390 930.5L391 924.9L392 920.1L393 914.8L394 911.3L395 904.9L396 901.5L397 898.4L398 892.4L399 887.6L400 883.9L401 880.2L402 875L403 871L404 866.2L405 861.4L406 858.9L407 852.7L408 847.9L409 843.4L410 839.2L411 834.5L412 829.8L413 824.6L414 819.2L415 816L416 811.4L417 807.4L418 802.5L419 798.1L420 792.9L421 788.4L422 783.2L423 780.2L424 776.6L425 772.4L426 768.9L427 764.6L428 761.1L429 754.7L430 751.2L431 745.9L432 742L433 738.2L434 733.1L435 729.5L436 725.3L437 723.1L438 718.9L439 715.3L440 710.3L441 706.6L442 703.9L443 699.4L444 695.3L445 691.6L446 686.7L447 683.7L448 679.3L449 675.5L450 671.3L451 668.6L452 664.8L453 662.6L454 659.9L455 656.9L456 654L457 651.3L458 646.8L459 645.7L460 642.2L461 639.5L462 636.6L463 633.6L464 631.9L465 630.4L466 628.8L467 626L468 624.2L469 623.9L470 621.3L471 621.5L472 619.2L473 617.5L474 617.4L475 616.6L476 614L477 614.5L478 612.6L479 612.6L480 610.8L481 609.5L482 609.9L483 609.5L484 609.5L485 608.8L486 608L487 607.4L488 607.1L489 607.1L490 606.8L491 607.1L492 605.9L493 607.3L494 607.3L495 608.8L496 608.2L497 607.9L498 608.8L499 608.3L500 609.2L501 609.2L502 611.5L503 611.9L504 611.9L505 613.4L506 614.9L507 615.8L508 617L509 617.6L510 619.1L511 621L512 623L513 623.8L514 625.4L515 628.2L516 629.1L517 631.9L518 633.4L519 635.7L520 638.2L521 639.9L522 642.2L523 643.7L524 646.3L525 649.4L526 652.4L527 655L528 658.3L529 660.2L530 663L531 666.2L532 668.5L533 671.1L534 673.5L535 677.4L536 679.3L537 683L538 685.2L539 689.6L540 692L541 696.6L542 699.7L543 704.8L544 710.1L545 713.8L546 718.3L547 721.9L548 724.8L549 729.7L550 733.5L551 736.5L552 741L553 744.1L554 747.8L555 752.1L556 755.5L557 760.6L558 762.7L559 767.8L560 772.1L561 775.3L562 780.1L563 786L564 790.2L565 795.3L566 800.1L567 804L568 808.2L569 812.1L570 818L571 822.1L572 827.4L573 832.3L574 836.5L575 842.9L576 847.9L577 853.1L578 857.6L579 863L580 867.3L581 871.2L582 874.6L583 879L584 882.6L585 886.3L586 889.5L587 893.7L588 896.7L589 898.8L590 903L591 906.5L592 910.1L593 912.7L594 915.7L595 918.5L596 922L597 924.5L598 927.4L599 930.4L600 933.9L601 936.5L602 939L603 943L604 945.4L605 948.9L606 952L607 955.4L608 958.3L609 960.6L610 963.6L611 965.9L612 969.9L613 972.1L614 975.2L615 977L616 978.6L617 982.2L618 983.6L619 985.5L620 987.2L621 989L622 990.2L623 990.6L624 992.8L625 993.1L626 993.7L627 995L628 994.6L629 993.7L630 992.8L631 993.6L632 994.3L633 994.9L634 995.5L635 996.7L636 997.5L637 999.1L638 1000.1L639 1000.6L640 999.6L641 998.7L642 997L643 994.5L644 992.5L645 990.7L646 986.7L647 983.4L648 978.4L649 973.2L650 966.6L651 961.1L652 954.8L653 948.2L654 940.4L655 932.5L656 925.6L657 920.1L658 915.3L659 909.6L660 901L661 891.8L662 879.5L663 865.6L664 853.3L665 841.1L666 830L667 821.1L668 814.3L669 810.4L670 809.7L671 809.6L672 811.4L673 817.9L674 827.5L675 837.2L676 847.9L677 856.1L678 863.7L679 870.3L680 876L681 880.4L682 885L683 889.6L684 893.9L685 897.7L686 901.8L687 905.1L688 909.4L689 914.1L690 918.6L691 923L692 928.2L693 932L694 935.5L695 938.7L696 941.5L697 942L698 942L699 940L700 937.9L701 933.3L702 925.2L703 921.4L704 919.2L705 924.2L706 933.9L707 949.2L708 962.1L709 972.2L710 980.3L711 986.6L712 993L713 997.3L714 1002.8L715 1005.5L716 1009L717 1011.6L718 1014.6L719 1016.9L720 1020.1L721 1022L722 1024.5L723 1026.1L724 1028.1L725 1030.6L726 1031.5L727 1032.7L728 1034.8L729 1035.6L730 1037.1L731 1038.7L732 1039.3L733 1041.1L734 1041.7L735 1043.6L736 1044.6L737 1045L738 1046L739 1046.7L740 1047.7L741 1048.6L742 1048.3L743 1049.6L744 1049.3L745 1049.9L746 1050.1L747 1051.8L748 1051.7L749 1052.2L750 1052.4L751 1053.4L752 1052.9L753 1054.1L754 1055.3L755 1055L756 1055.7L757 1056.5L758 1056.7L759 1057.6L760 1058.5L761 1058.9L762 1059.6L763 1060L764 1060.8L765 1061.2L766 1062.2L767 1062.5L768 1062.7L769 1062.5L770 1063.9L771 1064.3L772 1064.3L773 1064.6L774 1065.4L775 1066.6L776 1066.6L777 1067.4L778 1068.2L779 1069.1L780 1069.3L781 1069.9"/>
<path clip-path="url(#cr)" stroke="#0f0" d="M805.8 1130.4L807.3 1131.1L808.8 1130.7L810.3 1130.1L811.8 1129.9L813.3 1129.1L814.8 1128.3L816.3 1128.5L817.8 1128.3L819.3 1127.5L820.8 1126.9L822.3 1126.1L823.8 1127.5L825.3 1128.3L826.8 1128.1L828.3 1128.7L829.8 1128.4L831.3 1127.3L832.8 1127.3L834.3 1127.3L835.8 1126.6L837.3 1127.6L838.8 1128L840.3 1127.4L841.8 1126.5L843.3 1123.9L844.8 1124.6L846.3 1124.7L847.8 1124.8L849.3 1124.7L850.8 1122.5L852.3 1121.3L853.8 1119L855.3 1117.4L856.8 1113.1L858.3 1110L859.8 1103L861.3 1095.4L862.8 1086.9L864.3 1080.9L865.8 1075.3L867.3 1068.9L868.8 1065.6L870.3 1063L871.8 1062.2L873.3 1061.2L874.8 1061L876.3 1061.8L877.8 1063.8L879.3 1066.3L880.8 1070.5L882.3 1074L883.8 1079.3L885.3 1082.6L886.8 1087.8L888.3 1090.7L889.8 1094.2L891.3 1095.9L892.8 1098L894.3 1099.8L895.8 1099.8L897.3 1101.2L898.8 1101.8L900.3 1102.3L901.8 1101.2L903.3 1101.4L904.8 1100.8L906.3 1100.3L907.8 1100.5L909.3 1099.9L910.8 1101.3L912.3 1100.9L913.8 1101.2L915.3 1099L916.8 1097.9L918.3 1098.1L919.8 1096.8L921.3 1097.3L922.8 1096.2L924.3 1090.7L925.8 1087.9L927.3 1086.6L928.8 1086.5L930.3 1084.5L931.8 1081.5L933.3 1080.2L934.8 1077.1L936.3 1076.5L937.8 1074.5L939.3 1073L940.8 1071.6L942.3 1067L943.8 1062.8L945.3 1059.3L946.8 1056.9L948.3 1055.6L949.8 1052.1L951.3 1049.3L952.8 1046.5L954.3 1041.6L955.8 1038.7L957.3 1036.5L958.8 1033.3L960.3 1030.5L961.8 1028L963.3 1025.5L964.8 1023.3L966.3 1021.1L967.8 1018.7L969.3 1016.2L970.8 1014L972.3 1013.4L973.8 1013.7L975.3 1011.6L976.8 1009.2L978.3 1006.5L979.8 1005.2L981.3 1004.5L982.8 1004.8L984.3 1003.9L985.8 1004.5L987.3 1004.8L988.8 1005.2L990.3 1003.8L991.8 1004.3L993.3 1003.9L994.8 1005.9L996.3 1007.5L997.8 1008.5L999.3 1009.5L1000.8 1011.8L1002.3 1013.1L1003.8 1015.1L1005.3 1017.9L1006.8 1019.4L1008.3 1022.7L1009.8 1025.2L1011.3 1027.7L1012.8 1031.5L1014.3 1033.5L1015.8 1037.4L1017.3 1039.4L1018.8 1042.5L1020.3 1045.4L1021.8 1047.4L1023.3 1049.2L1024.8 1051.8L1026.3 1053.8L1027.8 1055.5L1029.3 1057.4L1030.8 1059.7L1032.3 1061.7L1033.8 1062.2L1035.3 1064.5L1036.8 1066.2L1038.3 1067.4L1039.8 1068.2L1041.3 1070.4L1042.8 1070.3L1044.3 1072.1L1045.8 1073.3L1047.3 1072.3L1048.8 1074.1L1050.3 1074.7L1051.8 1075.2L1053.3 1075.3L1054.8 1076L1056.3 1075.9L1057.8 1076.9L1059.3 1077.4L1060.8 1077.2L1062.3 1077.3L1063.8 1077.8L1065.3 1078.1L1066.8 1078.2L1068.3 1078.1L1069.8 1078.2L1071.3 1077.5L1072.8 1076.8L1074.3 1078.4L1075.8 1078.2L1077.3 1075.8L1078.8 1075.3L1080.3 1075.3L1081.8 1075.3L1083.3 1074.9L1084.8 1074.8L1086.3 1073.8L1087.8 1073.6L1089.3 1073.2L1090.8 1072.4L1092.3 1072.5L1093.8 1071.5L1095.3 1071.3L1096.8 1070.6L1098.3 1071.5L1099.8 1071L1101.3 1072.2L1102.8 1071.2L1104.3 1072.3L1105.8 1073.4L1107.3 1073.1L1108.8 1073.6L1110.3 1072.9L1111.8 1074.5L1113.3 1074.1L1114.8 1073.8L1116.3 1074L1117.8 1074L1119.3 1074.5L1120.8 1073.9L1122.3 1072.8L1123.8 1072.8L1125.3 1073L1126.8 1072.9L1128.3 1073.3L1129.8 1074.6L1131.3 1074.3L1132.8 1073.9L1134.3 1071.8L1135.8 1071.3L1137.3 1073.8L1138.8 1075.9L1140.3 1077.7L1141.8 1079.4L1143.3 1079.2L1144.8 1080.4L1146.3 1080.9L1147.8 1081.8L1149.3 1082.9L1150.8 1083.1L1152.3 1083.2L1153.8 1083.7L1155.3 1082.2L1156.8 1082.8L1158.3 1082.8L1159.8 1083L1161.3 1083.1L1162.8 1082.7L1164.3 1080.9L1165.8 1080.8L1167.3 1078.3L1168.8 1076.6L1170.3 1074.6L1171.8 1069.6L1173.3 1064.8L1174.8 1057.5L1176.3 1051.1L1177.8 1043.6L1179.3 1037.4L1180.8 1031.7L1182.3 1027.6L1183.8 1024.6L1185.3 1020L1186.8 1016.4L1188.3 1014.5L1189.8 1013.1L1191.3 1012.5L1192.8 1012.3L1194.3 1013.8L1195.8 1014.9L1197.3 1016.3L1198.8 1017L1200.3 1018.7L1201.8 1018.3L1203.3 1017.9L1204.8 1019.1L1206.3 1019.2L1207.8 1019.3L1209.3 1018.1L1210.8 1018.6L1212.3 1017.2L1213.8 1016.4L1215.3 1014.9L1216.8 1015L1218.3 1014L1219.8 1014.2L1221.3 1013.2L1222.8 1012.6L1224.3 1013L1225.8 1012L1227.3 1011.4L1228.8 1009.2L1230.3 1008.6L1231.8 1007.4L1233.3 1006.5L1234.8 1005.7L1236.3 1005.6L1237.8 1006.3L1239.3 1006.6L1240.8 1007.4L1242.3 1007.9L1243.8 1007.9L1245.3 1009.8L1246.8 1011.4L1248.3 1011.7L1249.8 1012.6L1251.3 1013.3L1252.8 1013.5L1254.3 1013.7L1255.8 1015.1L1257.3 1015.7L1258.8 1016L1260.3 1016.7L1261.8 1017.4L1263.3 1017.6L1264.8 1017.3L1266.3 1016L1267.8 1014.6L1269.3 1012.3L1270.8 1010.7L1272.3 1009.3L1273.8 1006.5L1275.3 1003L1276.8 1001.8L1278.3 998.6L1279.8 998.4L1281.3 996.2L1282.8 995L1284.3 993.5L1285.8 992.6L1287.3 992.4L1288.8 991.7L1290.3 990.5L1291.8 990L1293.3 989.6L1294.8 989.4L1296.3 988.9L1297.8 988.9L1299.3 990.2L1300.8 990.2L1302.3 990.6L1303.8 991.1L1305.3 991L1306.8 990.3L1308.3 990.5L1309.8 990.7L1311.3 989.9L1312.8 989.9L1314.3 989.9L1315.8 988.6L1317.3 987L1318.8 985.7L1320.3 984.7L1321.8 983.6L1323.3 984.2L1324.8 984.2L1326.3 985.6L1327.8 986.5L1329.3 986.8L1330.8 989.6L1332.3 990.8L1333.8 993.8L1335.3 995.6L1336.8 997.3L1338.3 999.3L1339.8 1000.4L1341.3 1002.1L1342.8 1003.3L1344.3 1004L1345.8 1005.1L1347.3 1005.3L1348.8 1006.8L1350.3 1006.8L1351.8 1008.5L1353.3 1009.3L1354.8 1010.2L1356.3 1010.6L1357.8 1013.1L1359.3 1012.7L1360.8 1014L1362.3 1014.7L1363.8 1016.9L1365.3 1017.5L1366.8 1019.5L1368.3 1020.1L1369.8 1022L1371.3 1022.9L1372.8 1024.8L1374.3 1025.5L1375.8 1026.4L1377.3 1028L1378.8 1028.2L1380.3 1029.1L1381.8 1030.6L1383.3 1030.3L1384.8 1032.5L1386.3 1033.2L1387.8 1034.3L1389.3 1035.9L1390.8 1036.9L1392.3 1037.3L1393.8 1038.2L1395.3 1039.2L1396.8 1039.3L1398.3 1038.8L1399.8 1037.9L1401.3 1037.2L1402.8 1036.9L1404.3 1037.4L1405.8 1037.5L1407.3 1037.6L1408.8 1038.3L1410.3 1037.8L1411.8 1037.8L1413.3 1037.8L1414.8 1038.8L1416.3 1037L1417.8 1038L1419.3 1038L1420.8 1037.5L1422.3 1037.8L1423.8 1036.5L1425.3 1035.8L1426.8 1034.7L1428.3 1035L1429.8 1034.4L1431.3 1034.5L1432.8 1034.8L1434.3 1034.9L1435.8 1036.1L1437.3 1037.3L1438.8 1038.1L1440.3 1039.3L1441.8 1040.1L1443.3 1043.2L1444.8 1045.1L1446.3 1046.7L1447.8 1048.6L1449.3 1051.1L1450.8 1052.4L1452.3 1055L1453.8 1055.7L1455.3 1056.7L1456.8 1057.9L1458.3 1057.8L1459.8 1058.7L1461.3 1058.7L1462.8 1057.5L1464.3 1058L1465.8 1057L1467.3 1057.4L1468.8 1057.6L1470.3 1057.8L1471.8 1058.5L1473.3 1058.9L1474.8 1060.6L1476.3 1062.2L1477.8 1065L1479.3 1066.4L1480.8 1067.1L1482.3 1069.9L1483.8 1071.4L1485.3 1072.4L1486.8 1073.7L1488.3 1074.9L1489.8 1075.2L1491.3 1075.6L1492.8 1075.4L1494.3 1074.2L1495.8 1073.6L1497.3 1071.8L1498.8 1068.6L1500.3 1064.9L1501.8 1061.4L1503.3 1056.7L1504.8 1050.6L1506.3 1043.4L1507.8 1035.9L1509.3 1025.9L1510.8 1013.9L1512.3 999.6L1513.8 983.9L1515.3 969L1516.8 955L1518.3 942.1L1519.8 931.8L1521.3 920.6L1522.8 908L1524.3 899.5L1525.8 892.1L1527.3 887.6L1528.8 884.1L1530.3 882L1531.8 882L1533.3 882.5L1534.8 883.4L1536.3 886.8L1537.8 892.5L1539.3 898.8L1540.8 904.9L1542.3 913.5L1543.8 923.2L1545.3 931.3L1546.8 938.1L1548.3 940.9L1549.8 942.2L1551.3 942.5L1552.8 943.1L1554.3 941.4L1555.8 939.8L1557.3 937.9L1558.8 935.3L1560.3 936.1L1561.8 935.6L1563.3 935.8L1564.8 935.8L1566.3 936.1L1567.8 935.8L1569.3 935.7L1570.8 934L1572.3 932.1L1573.8 929.7L1575.3 926.2L1576.8 922.3L1578.3 917.9L1579.8 914.1L1581.3 912.9L1582.8 912.1L1584.3 911.7L1585.8 911.6L1587.3 911.5L1588.8 912.6L1590.3 912.6L1591.8 910.6L1593.3 906.7L1594.8 902.5L1596.3 894.3L1597.8 886.9L1599.3 876.2L1600.8 864.3L1602.3 854L1603.8 842.3L1605.3 832.2L1606.8 821.8L1608.3 812.8L1609.8 807.2L1611.3 804.3L1612.8 804.8L1614.3 806.2L1615.8 811.7L1617.3 821L1618.8 836.4L1620.3 851.5L1621.8 865L1623.3 879.4L1624.8 884.6L1626.3 885.7L1627.8 883.2L1629.3 878.2L1630.8 871.4L1632.3 860.1L1633.8 847L1635.3 835.2L1636.8 820.3L1638.3 805L1639.8 791.6L1641.3 780.2L1642.8 771.5L1644.3 764.8L1645.8 759.5L1647.3 755.4L1648.8 752.4L1650.3 750.5L1651.8 747.9L1653.3 746.9L1654.8 743.9L1656.3 742.4L1657.8 739.2L1659.3 735L1660.8 731.2L1662.3 724.9L1663.8 717.3L1665.3 709.3L1666.8 700.7L1668.3 689.9L1669.8 680.4L1671.3 669L1672.8 658.5L1674.3 650.2L1675.8 642.2L1677.3 635.5L1678.8 630.9L1680.3 628.1L1681.8 625.5L1683.3 622.9L1684.8 622L1686.3 620.9L1687.8 619.5L1689.3 617.4L1690.8 616.6L1692.3 614.4L1693.8 612.5L1695.3 610.9L1696.8 608.4L1698.3 607.8L1699.8 607.6L1701.3 608.1L1702.8 609.8L1704.3 612.3L1705.8 616.3L1707.3 623L1708.8 629.1L1710.3 638.4L1711.8 647.8L1713.3 659.4L1714.8 671.6L1716.3 685.2L1717.8 698.3L1719.3 711.9L1720.8 726.1L1722.3 739.4L1723.8 752.6L1725.3 765.6L1726.8 778.8L1728.3 792.6L1729.8 805.4L1731.3 817.8L1732.8 829.8L1734.3 840.4L1735.8 852.4L1737.3 861.5L1738.8 871.2L1740.3 880.7L1741.8 888.2L1743.3 897.1L1744.8 904.1L1746.3 910.7L1747.8 919.1L1749.3 928.4L1750.8 934.6L1752.3 941.1L1753.8 942.9L1755.3 943.7L1756.8 944L1758.3 943.3L1759.8 941.3L1761.3 937.7L1762.8 935.5L1764.3 932.4L1765.8 931.2L1767.3 929.4L1768.8 928.8L1770.3 926.8L1771.8 926.3L1773.3 925.9L1774.8 926.4L1776.3 925.4L1777.8 926.8L1779.3 927.2L1780.8 928L1782.3 929.3L1783.8 932.7L1785.3 936.2L1786.8 939.3L1788.3 944.7L1789.8 950.6L1791.3 954.8L1792.8 959.5L1794.3 963.2L1795.8 967.3L1797.3 970.5L1798.8 973.2L1800.3 975.6L1801.8 977.5L1803.3 979.5L1804.8 981.4L1806.3 983.7L1807.8 984.9L1809.3 986.7L1810.8 989.3L1812.3 991.3L1813.8 993L1815.3 995.4L1816.8 998.4L1818.3 1000.9L1819.8 1003.1L1821.3 1006.3L1822.8 1008.8L1824.3 1011.6L1825.8 1012.6L1827.3 1014.7L1828.8 1015.6L1830.3 1015.8L1831.8 1016.6L1833.3 1015.5L1834.8 1012.7L1836.3 1011.8L1837.8 1007.3L1839.3 1003.1L1840.8 999L1842.3 995L1843.8 990.4L1845.3 986.7L1846.8 985.1L1848.3 982.9L1849.8 982.2L1851.3 982.1L1852.8 981.1L1854.3 980.8L1855.8 983L1857.3 984L1858.8 985.5L1860.3 986.6L1861.8 987.1L1863.3 988.2L1864.8 989.7L1866.3 990.9L1867.8 991.1L1869.3 993.8L1870.8 994.8L1872.3 996.4L1873.8 998.5L1875.3 1000.2L1876.8 1003L1878.3 1005.7L1879.8 1008L1881.3 1009.8L1882.8 1011.3L1884.3 1012.8L1885.8 1015.3L1887.3 1016.5L1888.8 1017.7L1890.3 1018.4L1891.8 1020.2L1893.3 1020.9L1894.8 1023.2L1896.3 1023.3L1897.8 1023.2L1899.3 1023.5L1900.8 1024.8L1902.3 1024.3L1903.8 1023.3L1905.3 1023.8L1906.8 1023.3L1908.3 1022.7L1909.8 1023L1911.3 1023.3L1912.8 1022.3L1914.3 1021L1915.8 1020.1L1917.3 1019.5L1918.8 1019.1L1920.3 1017.2L1921.8 1016.1L1923.3 1016.6L1924.8 1015L1926.3 1014.6L1927.8 1013.1L1929.3 1012.7L1930.8 1010.9L1932.3 1010.3L1933.8 1009.6L1935.3 1008L1936.8 1005.7L1938.3 1004.1L1939.8 1001.1L1941.3 998.1L1942.8 996L1944.3 993.3L1945.8 990L1947.3 986.2L1948.8 984.3L1950.3 981.7L1951.8 979.2L1953.3 976.8L1954.8 977.3L1956.3 976.5L1957.8 975.7L1959.3 974.6L1960.8 975L1962.3 976.7L1963.8 977.5L1965.3 978.3L1966.8 979.3L1968.3 981.1L1969.8 982.4L1971.3 984.1L1972.8 985.4L1974.3 987.5L1975.8 988.7L1977.3 990.5L1978.8 991.3L1980.3 991.6L1981.8 993.3L1983.3 992.2L1984.8 992.9L1986.3 993.1L1987.8 993.2L1989.3 991.8L1990.8 992.8L1992.3 992L1993.8 990.9L1995.3 988.1L1996.8 987.2L1998.3 985.6L1999.8 983.5L2001.3 982.1L2002.8 979.1L2004.3 977.6L2005.8 975L2007.3 971.9L2008.8 970L2010.3 968.2L2011.8 966.5L2013.3 965.3L2014.8 963.6L2016.3 963L2017.8 961.1L2019.3 960L2020.8 961L2022.3 961.6L2023.8 961.5L2025.3 961.8L2026.8 963.4L2028.3 965.4L2029.8 965.8L2031.3 966.8L2032.8 967.9L2034.3 970.1L2035.8 969.9L2037.3 970.6L2038.8 971.3L2040.3 971.5L2041.8 970.9L2043.3 971.8L2044.8 971.7L2046.3 971.6L2047.8 971.7L2049.3 971L2050.8 971.1L2052.3 970.9L2053.8 971.3L2055.3 970.6L2056.8 970.7L2058.3 969.8L2059.8 969.8L2061.3 969.3L2062.8 969.1L2064.3 968.9L2065.8 968.5L2067.3 968.3L2068.8 967.2L2070.3 968.3L2071.8 967.4L2073.3 967.4L2074.8 967L2076.3 967.6L2077.8 966.7L2079.3 967.2L2080.8 967.3L2082.3 967.4L2083.8 967.1L2085.3 966.8L2086.8 966L2088.3 966.9L2089.8 966.8L2091.3 966.6L2092.8 966.4L2094.3 965.9L2095.8 965.3L2097.3 965.6L2098.8 965.3L2100.3 963.9L2101.8 964.3L2103.3 963.7L2104.8 963.7L2106.3 963L2107.8 962.8L2109.3 961.7L2110.8 960.4L2112.3 958.1L2113.8 957.6L2115.3 955.8L2116.8 953.7L2118.3 953L2119.8 950.9L2121.3 950.7L2122.8 950L2124.3 948.3L2125.8 948.2L2127.3 947.5L2128.8 947.1L2130.3 945.9L2131.8 946.3L2133.3 945.7L2134.8 945.7L2136.3 945.5L2137.8 946.3L2139.3 946.4L2140.8 947.1L2142.3 947.7L2143.8 947.6L2145.3 948.3L2146.8 948.3L2148.3 948.5L2149.8 947.8L2151.3 947.5L2152.8 946.2L2154.3 942.9L2155.8 939.9L2157.3 936L2158.8 931.7L2160.3 928.7L2161.8 925.9L2163.3 922.5L2164.8 919.7L2166.3 918.6L2167.8 917L2169.3 917.1L2170.8 916.3L2172.3 917.3L2173.8 918.4L2175.3 920.7L2176.8 923.3L2178.3 926L2179.8 929L2181.3 931.2L2182.8 934.5L2184.3 935.7L2185.8 938.1L2187.3 939.6L2188.8 941L2190.3 943.6L2191.8 943.4L2193.3 946L2194.8 945.9L2196.3 947.4L2197.8 949.3L2199.3 948.3L2200.8 948.6L2202.3 948.2L2203.8 945.5L2205.3 943L2206.8 940.3L2208.3 937L2209.8 935.1L2211.3 933.8L2212.8 931.4L2214.3 930.3L2215.8 929.9L2217.3 929.4L2218.8 927.8L2220.3 927.6L2221.8 927L2223.3 927L2224.8 927.3L2226.3 927.5L2227.8 927.5L2229.3 928L2230.8 929.8L2232.3 931.8L2233.8 933.8L2235.3 934.4L2236.8 935.9L2238.3 937.6L2239.8 938.9L2241.3 939.7L2242.8 940.8L2244.3 942.6L2245.8 942.8L2247.3 943.7L2248.8 944.2L2250.3 946L2251.8 946.7L2253.3 948.6L2254.8 948.7L2256.3 950.1"/>
<path clip-path="url(#cl)" stroke="#00f" d="M156.2 1054.4L156.45 1056.8L156.7 1055.9L156.95 1054.4L157.2 1052.6L157.45 1053.1L157.7 1054.6L157.95 1052.9L158.2 1054.6L158.45 1053.8L158.7 1053.5L158.95 1053.8L159.2 1053.4L159.45 1051.6L159.7 1052L159.95 1055L160.2 1050.6L160.45 1051.3L160.7 1052.9L160.95 1051.3L161.2 1050.3L161.45 1049.5L161.7 1051.5L161.95 1051.9L162.2 1052.2L162.45 1050.4L162.7 1051.4L162.95 1048.7L163.2 1050L163.45 1048.7L163.7 1049.7L163.95 1050.2L164.2 1050.5L164.45 1047.6L164.7 1050.4L164.95 1047.9L165.2 1047L165.45 1047.9L165.7 1046L165.95 1047.8L166.2 1047.9L166.45 1047L166.7 1047.8L166.95 1046.4L167.2 1046.5L167.45 1044.2L167.7 1046L167.95 1044.5L168.2 1044.8L168.45 1045L168.7 1045.1L168.95 1042.1L169.2 1041.9L169.45 1043.6L169.7 1044.5L169.95 1044.1L170.2 1044.7L170.45 1045.1L170.7 1043.6L170.95 1042.6L171.2 1040.8L171.45 1040.8L171.7 1041.4L171.95 1042.5L172.2 1042.3L172.45 1041.9L172.7 1041.5L172.95 1042.7L173.2 1041.9L173.45 1042L173.7 1042L173.95 1040.4L174.2 1039.5L174.45 1042L174.7 1041.8L174.95 1040.7L175.2 1040.2L175.45 1045L175.7 1039.5L175.95 1040.4L176.2 1041.2L176.45 1038.5L176.7 1040.8L176.95 1043.8L177.2 1042.1L177.45 1041.5L177.7 1041.3L177.95 1040.2L178.2 1041.7L178.45 1039.4L178.7 1038.7L178.95 1039.5L179.2 1040.9L179.45 1039.5L179.7 1040L179.95 1034.3L180.2 1040.5L180.45 1042.6L180.7 1040.4L180.95 1036.7L181.2 1035.3L181.45 1037.4L181.7 1034.5L181.95 1037.9L182.2 1035L182.45 1038.1L182.7 1038.8L182.95 1031.1L183.2 1036.1L183.45 1033.8L183.7 1032L183.95 1033.7L184.2 1034.5L184.45 1037.3L184.7 1031.3L184.95 1037.2L185.2 1039.4L185.45 1036L185.7 1035.8L185.95 1034.4L186.2 1031.5L186.45 1035.6L186.7 1035.2L186.95 1036L187.2 1040.5L187.45 1035.8L187.7 1035L187.95 1037.8L188.2 1030.3L188.45 1030.7L188.7 1032.6L188.95 1031.7L189.2 1035.2L189.45 1032.4L189.7 1037.8L189.95 1037.1L190.2 1035L190.45 1031.7L190.7 1034.4L190.95 1034.8L191.2 1029.5L191.45 1033.3L191.7 1034.2L191.95 1032.7L192.2 1036.4L192.45 1035.3L192.7 1029.3L192.95 1031.9L193.2 1029L193.45 1033L193.7 1028.6L193.95 1033.8L194.2 1032.1L194.45 1033.7L194.7 1030.2L194.95 1026.1L195.2 1035.8L195.45 1029.8L195.7 1034.4L195.95 1031.4L196.2 1032.1L196.45 1035.6L196.7 1030.8L196.95 1034.1L197.2 1024.7L197.45 1032.2L197.7 1028.5L197.95 1028.7L198.2 1029L198.45 1030L198.7 1034.3L198.95 1022.5L199.2 1028.7L199.45 1026L199.7 1032.2L199.95 1026.7L200.2 1029.6L200.45 1026.5L200.7 1030L200.95 1031L201.2 1026.1L201.45 1027.4L201.7 1022.2L201.95 1027.9L202.2 1029.6L202.45 1024.6L202.7 1030.1L202.95 1019L203.2 1019.6L203.45 1021L203.7 1023.9L203.95 1025.4L204.2 1024.9L204.45 1024.7L204.7 1027.2L204.95 1022.9L205.2 1020L205.45 1019.9L205.7 1031.2L205.95 1015.8L206.2 1023.1L206.45 1028.6L206.7 1025.2L206.95 1020.6L207.2 1023.5L207.45 1026.4L207.7 1027.6L207.95 1020.5L208.2 1026.2L208.45 1024.6L208.7 1027.6L208.95 1028.7L209.2 1022.8L209.45 1019.1L209.7 1025.6L209.95 1030.5L210.2 1026.8L210.45 1025.4L210.7 1033L210.95 1021.2L211.2 1028.1L211.45 1023.1L211.7 1025.3L211.95 1025.5L212.2 1030.5L212.45 1022.1L212.7 1023.5L212.95 1019.9L213.2 1027.1L213.45 1023.8L213.7 1026.8L213.95 1021.6L214.2 1024L214.45 1028.7L214.7 1024.4L214.95 1027L215.2 1026.6L215.45 1023.4L215.7 1019L215.95 1027.7L216.2 1024.7L216.45 1027.4L216.7 1016.8L216.95 1017.9L217.2 1016L217.45 1020.3L217.7 1026.8L217.95 1025L218.2 1022.8L218.45 1023.2L218.7 1025.3L218.95 1021.4L219.2 1023.7L219.45 1022.7L219.7 1014.4L219.95 1020.5L220.2 1026.4L220.45 1020.1L220.7 1020.8L220.95 1019.1L221.2 1019.3L221.45 1024.8L221.7 1019.8L221.95 1017L222.2 1009.5L222.45 1018.3L222.7 1013.3L222.95 1013.6L223.2 1022.7L223.45 1022.3L223.7 1013L223.95 1022.6L224.2 1021.2L224.45 1016.8L224.7 1022.1L224.95 1013.8L225.2 1015.3L225.45 1014.5L225.7 1015.7L225.95 1022.8L226.2 1015.1L226.45 1015.8L226.7 1016.6L226.95 1020.7L227.2 1019L227.45 1023.3L227.7 1017.9L227.95 1016L228.2 1018.9L228.45 1020.9L228.7 1017.6L228.95 1022L229.2 1027.5L229.45 1019.5L229.7 1023.1L229.95 1031L230.2 1029.4L230.45 1033.5L230.7 1033.1L230.95 1034.2L231.2 1029.1L231.45 1022.9L231.7 1021.9L231.95 1025.6L232.2 1023.9L232.45 1015.7L232.7 1020.4L232.95 1020.6L233.2 1022.5L233.45 1019L233.7 1017.2L233.95 1017.6L234.2 1012.7L234.45 1018.7L234.7 1016.4L234.95 1019.9L235.2 1014.5L235.45 1016.4L235.7 1014.3L235.95 1013.8L236.2 1020L236.45 1015.8L236.7 1019L236.95 1013.4L237.2 1017.8L237.45 1011.5L237.7 1015.8L237.95 1015.8L238.2 1019.7L238.45 1018.4L238.7 1017.2L238.95 1020.8L239.2 1018.6L239.45 1020L239.7 1020.9L239.95 1018L240.2 1017.3L240.45 1019.6L240.7 1017.1L240.95 1020.1L241.2 1022.8L241.45 1022L241.7 1017.7L241.95 1014.5L242.2 1019L242.45 1018.8L242.7 1023.3L242.95 1018L243.2 1018.7L243.45 1022.2L243.7 1017.9L243.95 1019.1L244.2 1025.8L244.45 1025.1L244.7 1022.1L244.95 1020.8L245.2 1016.5L245.45 1022L245.7 1020.2L245.95 1020.9L246.2 1018.3L246.45 1020.1L246.7 1019.5L246.95 1021.4L247.2 1025.4L247.45 1021.6L247.7 1014.5L247.95 1017.4L248.2 1016.7L248.45 1022.7L248.7 1031.7L248.95 1033.7L249.2 1028.8L249.45 1028L249.7 1020.5L249.95 1015.9L250.2 1015L250.45 1016.7L250.7 1024.7L250.95 1014.6L251.2 1023.7L251.45 1023.8L251.7 1018.2L251.95 1018.5L252.2 1016.2L252.45 1018.1L252.7 1020.4L252.95 1017.8L253.2 1021.1L253.45 1021.6L253.7 1018.3L253.95 1018L254.2 1016.4L254.45 1017.6L254.7 1012.1L254.95 1017.4L255.2 1016.4L255.45 1012.2L255.7 1022.8L255.95 1011.1L256.2 1011.1L256.45 1014.9L256.7 1006.5L256.95 1010.3L257.2 1007.3L257.45 1009L257.7 1011.6L257.95 1012.9L258.2 1015.5L258.45 1014.1L258.7 1015.2L258.95 1012.8L259.2 1008.7L259.45 1014.3L259.7 1008.3L259.95 1007.7L260.2 1015.3L260.45 1012.4L260.7 1010.2L260.95 1012L261.2 1012.3L261.45 1003.9L261.7 1008.4L261.95 1004.3L262.2 1008.9L262.45 1005.9L262.7 1013.2L262.95 1010L263.2 1005L263.45 1007.8L263.7 1003.4L263.95 1007.9L264.2 1009.6L264.45 1008.5L264.7 1000.5L264.95 1006.3L265.2 1009.4L265.45 1008.6L265.7 1012L265.95 1003.4L266.2 1010.4L266.45 1006.7L266.7 1010.4L266.95 1011.8L267.2 1013.5L267.45 1009.4L267.7 1012.6L267.95 1008L268.2 1007.3L268.45 1014.5L268.7 1012.2L268.95 1006.3L269.2 1009L269.45 1012L269.7 1017.3L269.95 1015.1L270.2 1013.9L270.45 1004L270.7 1009.8L270.95 1011.5L271.2 1010.7L271.45 1010.3L271.7 1007.4L271.95 1014.3L272.2 1012.7L272.45 1006.4L272.7 1002.7L272.95 1013.4L273.2 1003.3L273.45 1009.2L273.7 1011.4L273.95 1000.5L274.2 1004.6L274.45 1001.9L274.7 1004.7L274.95 1003.5L275.2 1009.2L275.45 1003.8L275.7 1001.1L275.95 1004.9L276.2 999.4L276.45 998.6L276.7 1007.9L276.95 996.1L277.2 997L277.45 998.5L277.7 994.1L277.95 989.8L278.2 1001.1L278.45 993.9L278.7 994.4L278.95 994.6L279.2 991.9L279.45 991L279.7 995.1L279.95 1002.9L280.2 996.2L280.45 995.6L280.7 986.7L280.95 991.6L281.2 986.7L281.45 993.4L281.7 989.1L281.95 989.6L282.2 988.6L282.45 986.2L282.7 982.3L282.95 989.7L283.2 982L283.45 982.4L283.7 985.3L283.95 983.4L284.2 986.6L284.45 989L284.7 985.8L284.95 985.2L285.2 984.2L285.45 987L285.7 976.6L285.95 984.5L286.2 979L286.45 976.6L286.7 978.7L286.95 973.2L287.2 972.6L287.45 972.2L287.7 960.3L287.95 972.3L288.2 984.1L288.45 982.9L288.7 986.7L288.95 982.3L289.2 976.8L289.45 978.1L289.7 985.2L289.95 986.4L290.2 980.2L290.45 982.2L290.7 984.4L290.95 977.1L291.2 982.6L291.45 990.3L291.7 992.7L291.95 984.3L292.2 991.9L292.45 983.3L292.7 982.7L292.95 977.7L293.2 990.3L293.45 985.8L293.7 996.6L293.95 989.5L294.2 989.5L294.45 982.6L294.7 995.6L294.95 989.1L295.2 990.4L295.45 983.6L295.7 997.3L295.95 1000.4L296.2 997.2L296.45 1000.8L296.7 1000.3L296.95 999.8L297.2 994.4L297.45 999.5L297.7 991.6L297.95 990L298.2 990.4L298.45 982.4L298.7 988.8L298.95 995.5L299.2 992.5L299.45 988.3L299.7 992.6L299.95 983.4L300.2 989.9L300.45 992.9L300.7 993.6L300.95 988L301.2 994.4L301.45 998.1L301.7 989.5L301.95 994.1L302.2 985.5L302.45 984.2L302.7 994.1L302.95 992.2L303.2 993L303.45 990.3L303.7 991.6L303.95 996L304.2 999.7L304.45 992.7L304.7 987.5L304.95 998.8L305.2 996.5L305.45 997L305.7 995.4L305.95 1003.6L306.2 995.4L306.45 997.2L306.7 988.5L306.95 993.3L307.2 993L307.45 995.5L307.7 997.1L307.95 993.3L308.2 1003.6L308.45 995.5L308.7 1000.9L308.95 1005.3L309.2 998.8L309.45 1002.6L309.7 999.9L309.95 994.8L310.2 1002.3L310.45 995.3L310.7 995.9L310.95 991.1L311.2 988.3L311.45 992.1L311.7 993.1L311.95 992.4L312.2 996.8L312.45 985L312.7 989.5L312.95 986.7L313.2 998.1L313.45 990.8L313.7 990.6L313.95 988L314.2 995L314.45 989.7L314.7 991.6L314.95 982.9L315.2 994.2L315.45 990.9L315.7 991.1L315.95 993.2L316.2 987.7L316.45 987.5L316.7 990.4L316.95 988.5L317.2 984.4L317.45 983.1L317.7 979.3L317.95 984L318.2 987L318.45 986L318.7 994.3L318.95 982.5L319.2 987.5L319.45 994.7L319.7 987.1L319.95 982.9L320.2 993.9L320.45 990.9L320.7 984.7L320.95 991.9L321.2 985.5L321.45 984.5L321.7 988.9L321.95 987.8L322.2 985.6L322.45 988.3L322.7 986.2L322.95 989.9L323.2 989.7L323.45 992.3L323.7 988.2L323.95 985L324.2 984.7L324.45 987.8L324.7 993L324.95 990L325.2 984.5L325.45 988.7L325.7 981.3L325.95 987.2L326.2 982.1L326.45 984.8L326.7 983.6L326.95 980.2L327.2 981.4L327.45 976.9L327.7 979.3L327.95 982.1L328.2 990L328.45 980.4L328.7 978.4L328.95 975.2L329.2 980.3L329.45 972.9L329.7 974.8L329.95 977.4L330.2 973.1L330.45 979.4L330.7 977.8L330.95 973.2L331.2 972.6L331.45 970.2L331.7 969.3L331.95 972.7L332.2 972.3L332.45 970.8L332.7 969.8L332.95 967.1L333.2 968.2L333.45 963.6L333.7 965.7L333.95 967.7L334.2 966.5L334.45 962.2L334.7 961.7L334.95 964L335.2 964.1L335.45 957.5L335.7 958.8L335.95 959.4L336.2 960.7L336.45 956.6L336.7 958.8L336.95 956.8L337.2 961.2L337.45 957.4L337.7 956.1L337.95 955.4L338.2 957.6L338.45 956.7L338.7 953.3L338.95 955.3L339.2 952.3L339.45 953.1L339.7 951.9L339.95 951.6L340 952.6L341 951L342 952.4L343 951.7L344 948.5L345 945.2L346 945.3L347 935L348 929.5L349 930.2L350 928.6L351 928.1L352 925.2L353 922.7L354 923L355 923.3L356 918.9L357 916.5L358 912.9L359 911L360 912.5L361 910.5L362 906.3L363 904.2L364 901.6L365 889.9L366 877.3L367 877.1L368 872.9L369 873.6L370 875.3L371 874.6L372 868.9L373 866.4L374 865.2L375 859.7L376 856.1L377 854.4L378 850.5L379 848.3L380 843.7L381 836.8L382 833L383 829.7L384 825.2L385 823.6L386 824.5L387 818.8L388 820.2L389 816.6L390 813.4L391 811.5L392 808.5L393 806.5L394 801L395 797.8L396 794.1L397 793.4L398 788.7L399 783L400 780.9L401 777.7L402 775.9L403 773.2L404 772.8L405 764.3L406 764.9L407 761L408 756.5L409 754.1L410 750.3L411 747.4L412 744.7L413 737.3L414 736.9L415 731.3L416 730.5L417 726.3L418 724.5L419 720.6L420 718L421 713.1L422 707.9L423 705.7L424 701.7L425 699.6L426 691.1L427 689.9L428 688.1L429 682.1L430 680.1L431 679.6L432 675.4L433 669.3L434 668.8L435 665.3L436 661.8L437 658.4L438 655.5L439 651.5L440 649L441 647.4L442 643.5L443 642.3L444 636.9L445 632.2L446 632.8L447 632L448 630.7L449 628.9L450 625.9L451 626.2L452 620.9L453 619.5L454 615.4L455 611.4L456 611.3L457 603.7L458 602.6L459 601.3L460 597.9L461 596.7L462 593.4L463 590.7L464 591.4L465 586.7L466 584.8L467 581.8L468 580.2L469 579.7L470 577.5L471 574.9L472 572.2L473 571.9L474 567.6L475 567.4L476 566L477 563.9L478 563.6L479 561.4L480 560.1L481 561.8L482 559.5L483 558.8L484 556.3L485 556.1L486 554.7L487 554L488 554.1L489 550.3L490 549.8L491 548.4L492 543.8L493 545.1L494 545.8L495 545.6L496 543.6L497 544.8L498 544.4L499 542.1L500 543.7L501 543.7L502 542.1L503 540.5L504 543.2L505 541.8L506 542L507 543.1L508 542.9L509 545.3L510 545.9L511 547.4L512 547.8L513 547.5L514 549.4L515 551.6L516 551.5L517 556.1L518 554L519 554.9L520 558.1L521 559.2L522 560L523 561.2L524 563L525 564.2L526 564.6L527 564L528 565.1L529 566L530 566.5L531 563.5L532 567.5L533 570L534 572.8L535 574.8L536 577L537 577.9L538 578.4L539 579.8L540 582.9L541 582.2L542 585.1L543 588.4L544 589.3L545 589L546 593.2L547 594.1L548 596L549 599L550 600.5L551 602.3L552 606L553 608.2L554 610.5L555 613.1L556 615.2L557 616.6L558 618.5L559 620.9L560 622L561 623.9L562 628.6L563 629.5L564 632.2L565 634.6L566 637.5L567 640.3L568 643.2L569 645.3L570 649.6L571 650.7L572 654.7L573 654.3L574 657.4L575 661.7L576 663.1L577 665.2L578 668.7L579 669.7L580 672.8L581 672.5L582 675.7L583 677.1L584 679.6L585 681.5L586 681.5L587 685.3L588 684.9L589 685.2L590 686.6L591 691.8L592 692L593 693.4L594 695.4L595 697.4L596 701.8L597 702.8L598 706.7L599 707.2L600 707.5L601 712.3L602 713.1L603 715L604 718.4L605 718.5L606 721.5L607 722.3L608 723.4L609 726.3L610 727.3L611 730.9L612 732.8L613 734L614 736.3L615 737.9L616 738.7L617 741L618 741.1L619 742.6L620 741.9L621 743.4L622 744L623 743.2L624 743.4L625 742.9L626 743.3L627 741.2L628 740.6L629 740L630 737.6L631 736.1L632 739.4L633 742.6L634 744.8L635 748.9L636 750.8L637 752.5L638 753L639 752.8L640 752.4L641 751.5L642 750.1L643 747.6L644 743L645 738.1L646 732.8L647 725.8L648 720.1L649 713L650 703.7L651 693.7L652 683.7L653 672.5L654 661.2L655 654.9L656 650.1L657 646.7L658 642.3L659 639L660 633.4L661 625.2L662 613.7L663 600.3L664 584.1L665 567.3L666 548.9L667 531.3L668 514.1L669 496.7L670 485.1L671 479.1L672 479L673 486.6L674 498.3L675 512.9L676 527.3L677 542.8L678 555.8L679 567.7L680 578.4L681 588.2L682 597.2L683 605.2L684 612.8L685 619.7L686 625L687 630.7L688 635.4L689 640.3L690 644L691 645.2L692 645.4L693 645.9L694 646L695 644.9L696 644.6L697 644.9L698 644.4L699 643.6L700 633.6L701 617.3L702 592.1L703 583.8L704 585.3L705 588.7L706 599.3L707 620L708 641.1L709 657.6L710 670.7L711 682.5L712 692.7L713 700.3L714 707.7L715 713.1L716 716.7L717 721.1L718 725.5L719 729.1L720 732.5L721 736L722 739.5L723 741.8L724 744.5L725 746.6L726 748.3L727 751.3L728 751.7L729 753.9L730 755.9L731 756.5L732 758.6L733 760.1L734 760.5L735 762L736 762.6L737 764.3L738 765.1L739 766.2L740 767.6L741 768.1L742 769.4L743 769.9L744 769.9L745 771.3L746 772.2L747 772.1L748 773.9L749 774L750 774.8L751 774.8L752 775.7L753 776.3L754 776.5L755 777.1L756 776.6L757 778.6L758 778L759 778L760 779.1L761 779.6L762 780.8L763 780.6L764 781.7L765 781.6L766 783.6L767 783.3L768 784.5L769 783.5L770 784.9L771 784.6L772 785.8L773 786.2L774 785.4L775 785.9L776 786.1L777 786.2L778 786.9L779 787.1L780 787.1L781 788.2"/>
<path clip-path="url(#cr)" stroke="#00f" d="M805.8 828L807.3 828.1L808.8 826L810.3 827.3L811.8 826.1L813.3 825.7L814.8 825.2L816.3 824.8L817.8 824.4L819.3 822.6L820.8 823.8L822.3 823.3L823.8 823L825.3 824.4L826.8 826.5L828.3 824.9L829.8 822.7L831.3 822.2L832.8 820.2L834.3 821.5L835.8 822.6L837.3 823.5L838.8 823.3L840.3 821.4L841.8 818.7L843.3 818L844.8 817.4L846.3 816.3L847.8 815.1L849.3 812.1L850.8 808.5L852.3 804.4L853.8 797.9L855.3 790.7L856.8 780.8L858.3 770.7L859.8 760.6L861.3 749.2L862.8 736.5L864.3 723L865.8 708.6L867.3 694.1L868.8 684.8L870.3 676.9L871.8 672.8L873.3 670.9L874.8 670.2L876.3 672L877.8 675.8L879.3 684.1L880.8 692.3L882.3 701.2L883.8 709.5L885.3 719.5L886.8 728.9L888.3 735.1L889.8 741.8L891.3 747.2L892.8 751.4L894.3 755.8L895.8 758.5L897.3 761.7L898.8 763.6L900.3 768.1L901.8 766.9L903.3 764.8L904.8 764.5L906.3 765.1L907.8 767.6L909.3 767.3L910.8 766.5L912.3 764.5L913.8 763.1L915.3 760.1L916.8 757.1L918.3 755.4L919.8 754.5L921.3 753.6L922.8 752.5L924.3 740L925.8 734.7L927.3 731.2L928.8 728.1L930.3 722.3L931.8 718.1L933.3 711.8L934.8 705.1L936.3 700.1L937.8 697.8L939.3 697.1L940.8 690.8L942.3 681.6L943.8 676.6L945.3 671.6L946.8 668L948.3 663.2L949.8 659.3L951.3 656L952.8 647.9L954.3 642.6L955.8 637.9L957.3 631.6L958.8 625.1L960.3 623.8L961.8 621.9L963.3 619.6L964.8 612.2L966.3 605.4L967.8 601.6L969.3 597.9L970.8 598.2L972.3 595.7L973.8 595.3L975.3 593.1L976.8 579.4L978.3 578.8L979.8 577.8L981.3 577.6L982.8 576L984.3 574.2L985.8 574.2L987.3 572.7L988.8 571.7L990.3 572.1L991.8 572.6L993.3 571.7L994.8 572.9L996.3 573L997.8 574.1L999.3 573.6L1000.8 576.1L1002.3 576.6L1003.8 579.5L1005.3 582.6L1006.8 586L1008.3 590L1009.8 595.3L1011.3 599.7L1012.8 603.5L1014.3 607.8L1015.8 613.7L1017.3 620.8L1018.8 625.6L1020.3 629.8L1021.8 632.4L1023.3 637.5L1024.8 641.8L1026.3 645.5L1027.8 650.2L1029.3 653.6L1030.8 656.4L1032.3 659.7L1033.8 663.2L1035.3 664.8L1036.8 667.1L1038.3 669.7L1039.8 671.3L1041.3 673.5L1042.8 674.5L1044.3 676.2L1045.8 676.9L1047.3 677.7L1048.8 678.9L1050.3 677.9L1051.8 680L1053.3 680.6L1054.8 680.1L1056.3 679.9L1057.8 680.5L1059.3 679.7L1060.8 680.3L1062.3 681.4L1063.8 681.7L1065.3 682.4L1066.8 681.4L1068.3 679.8L1069.8 678.2L1071.3 676.5L1072.8 676L1074.3 674L1075.8 675.1L1077.3 676L1078.8 667.7L1080.3 659.7L1081.8 656.9L1083.3 655.8L1084.8 654.7L1086.3 653.9L1087.8 652.4L1089.3 650.9L1090.8 650.6L1092.3 649.8L1093.8 648L1095.3 642.7L1096.8 641.1L1098.3 637.8L1099.8 638.4L1101.3 638.8L1102.8 640.4L1104.3 642.2L1105.8 642L1107.3 640L1108.8 638.8L1110.3 638.4L1111.8 637.3L1113.3 637.3L1114.8 636.5L1116.3 638L1117.8 637.2L1119.3 637.4L1120.8 637.8L1122.3 637.2L1123.8 636.9L1125.3 637.4L1126.8 636.9L1128.3 637.3L1129.8 637.6L1131.3 636.5L1132.8 637.8L1134.3 638.9L1135.8 641.5L1137.3 647.8L1138.8 651L1140.3 654.2L1141.8 656.1L1143.3 659.5L1144.8 664.3L1146.3 667.8L1147.8 670.9L1149.3 676L1150.8 680L1152.3 683.9L1153.8 687L1155.3 688.6L1156.8 690.3L1158.3 693.1L1159.8 696L1161.3 699.2L1162.8 701.6L1164.3 702.3L1165.8 703.4L1167.3 702.1L1168.8 700.8L1170.3 700.5L1171.8 697.8L1173.3 689.3L1174.8 679.8L1176.3 671.1L1177.8 663L1179.3 654.6L1180.8 649.5L1182.3 645.1L1183.8 641.6L1185.3 638.8L1186.8 637.1L1188.3 633.7L1189.8 630.2L1191.3 626.2L1192.8 628.8L1194.3 628L1195.8 629.3L1197.3 629.6L1198.8 631.4L1200.3 631.3L1201.8 633L1203.3 633.6L1204.8 635L1206.3 634.5L1207.8 635.4L1209.3 636.3L1210.8 638.3L1212.3 636.9L1213.8 638.6L1215.3 638.8L1216.8 640.2L1218.3 641.1L1219.8 641.7L1221.3 642.7L1222.8 643.4L1224.3 643.1L1225.8 642.8L1227.3 640.8L1228.8 640.1L1230.3 638.3L1231.8 636.6L1233.3 635.2L1234.8 633.9L1236.3 633.2L1237.8 633L1239.3 630.9L1240.8 633L1242.3 633.5L1243.8 634.1L1245.3 633.8L1246.8 635.2L1248.3 635.7L1249.8 635.8L1251.3 634.8L1252.8 634.5L1254.3 633.6L1255.8 633.2L1257.3 631.8L1258.8 630.4L1260.3 630.9L1261.8 632.9L1263.3 634.3L1264.8 633.6L1266.3 633.5L1267.8 631.4L1269.3 630.1L1270.8 629.5L1272.3 627.6L1273.8 626.6L1275.3 624.5L1276.8 625L1278.3 623.7L1279.8 623.4L1281.3 623.7L1282.8 623.7L1284.3 623.3L1285.8 625L1287.3 623.8L1288.8 624.9L1290.3 625.6L1291.8 624.5L1293.3 625.2L1294.8 625L1296.3 626.4L1297.8 626L1299.3 626.1L1300.8 628.2L1302.3 628.8L1303.8 628.5L1305.3 630.5L1306.8 631L1308.3 633.5L1309.8 633.7L1311.3 632.5L1312.8 632.6L1314.3 632.1L1315.8 632.5L1317.3 632L1318.8 630.9L1320.3 629L1321.8 627.4L1323.3 628.8L1324.8 632L1326.3 633.6L1327.8 634.6L1329.3 636.4L1330.8 638.1L1332.3 639.9L1333.8 640.5L1335.3 643.3L1336.8 643.6L1338.3 645L1339.8 644.1L1341.3 646.1L1342.8 647.1L1344.3 645.3L1345.8 647.6L1347.3 647L1348.8 646.4L1350.3 646.1L1351.8 648.4L1353.3 649.2L1354.8 651L1356.3 651.8L1357.8 652.7L1359.3 654.8L1360.8 654.8L1362.3 656.9L1363.8 656.3L1365.3 657.6L1366.8 658.1L1368.3 660.4L1369.8 659.3L1371.3 660.3L1372.8 661.9L1374.3 662.1L1375.8 663.6L1377.3 663.7L1378.8 663.3L1380.3 663.6L1381.8 662.3L1383.3 662.9L1384.8 663.2L1386.3 663.3L1387.8 662.6L1389.3 662.8L1390.8 662.8L1392.3 663.5L1393.8 662.7L1395.3 661.7L1396.8 661.3L1398.3 661.3L1399.8 660.4L1401.3 660.3L1402.8 659L1404.3 659.8L1405.8 659.6L1407.3 659L1408.8 659.2L1410.3 659.3L1411.8 660.5L1413.3 659.5L1414.8 658.4L1416.3 658.1L1417.8 658.5L1419.3 658L1420.8 656.9L1422.3 656L1423.8 654.6L1425.3 652.6L1426.8 651.9L1428.3 650.5L1429.8 651.1L1431.3 650.6L1432.8 651.5L1434.3 651.4L1435.8 650.5L1437.3 652.3L1438.8 652.6L1440.3 651.9L1441.8 653.3L1443.3 654.3L1444.8 654.6L1446.3 657L1447.8 658.9L1449.3 661.7L1450.8 663L1452.3 664.4L1453.8 666.2L1455.3 667.5L1456.8 668.1L1458.3 668.5L1459.8 668.9L1461.3 669.6L1462.8 669.7L1464.3 670.3L1465.8 670.6L1467.3 670.8L1468.8 671.8L1470.3 673L1471.8 675L1473.3 675.7L1474.8 675.5L1476.3 677L1477.8 677.7L1479.3 679.5L1480.8 681.2L1482.3 682.4L1483.8 683.2L1485.3 683.6L1486.8 685.5L1488.3 685.8L1489.8 684L1491.3 684.2L1492.8 683.2L1494.3 683.2L1495.8 681.9L1497.3 680.3L1498.8 677.2L1500.3 672.1L1501.8 668.8L1503.3 663.2L1504.8 655.6L1506.3 650.5L1507.8 642.4L1509.3 633.4L1510.8 622.8L1512.3 610.6L1513.8 598.2L1515.3 587.3L1516.8 577.4L1518.3 570.5L1519.8 562.3L1521.3 553.6L1522.8 547.1L1524.3 542.3L1525.8 538.1L1527.3 534.6L1528.8 532.2L1530.3 532.6L1531.8 532L1533.3 530.9L1534.8 531.5L1536.3 533.9L1537.8 537.5L1539.3 541.6L1540.8 545.5L1542.3 549.4L1543.8 554.9L1545.3 559.6L1546.8 563.3L1548.3 565.9L1549.8 568.9L1551.3 569.9L1552.8 568.9L1554.3 568.5L1555.8 566.5L1557.3 566.7L1558.8 565.4L1560.3 563.5L1561.8 563.4L1563.3 563.3L1564.8 560.8L1566.3 561.3L1567.8 561.6L1569.3 558.9L1570.8 558.8L1572.3 556.9L1573.8 556.3L1575.3 552.5L1576.8 549.7L1578.3 547.7L1579.8 545.9L1581.3 544.2L1582.8 542.7L1584.3 542L1585.8 540.8L1587.3 540L1588.8 537.8L1590.3 537L1591.8 537.2L1593.3 534.4L1594.8 529.5L1596.3 524.2L1597.8 518.2L1599.3 510L1600.8 503.8L1602.3 494.4L1603.8 486.8L1605.3 481.2L1606.8 472.3L1608.3 468.6L1609.8 463.6L1611.3 461.4L1612.8 460.6L1614.3 462.1L1615.8 465.8L1617.3 472L1618.8 480.2L1620.3 488.8L1621.8 496.8L1623.3 502.2L1624.8 506L1626.3 505.8L1627.8 504.7L1629.3 500.2L1630.8 495.1L1632.3 489.5L1633.8 481.1L1635.3 470.9L1636.8 462.9L1638.3 452.6L1639.8 447L1641.3 440L1642.8 433.7L1644.3 429.7L1645.8 425.6L1647.3 423.7L1648.8 419.5L1650.3 418.7L1651.8 416.4L1653.3 413.4L1654.8 411.7L1656.3 411.7L1657.8 409.8L1659.3 408.9L1660.8 407.3L1662.3 404.1L1663.8 399.4L1665.3 393.1L1666.8 386.5L1668.3 381.2L1669.8 376.8L1671.3 371.4L1672.8 365.5L1674.3 361.4L1675.8 357.9L1677.3 355.2L1678.8 352.1L1680.3 349.9L1681.8 348.7L1683.3 348.7L1684.8 348.9L1686.3 346.8L1687.8 345.9L1689.3 347.5L1690.8 346.9L1692.3 346.3L1693.8 345.5L1695.3 343.7L1696.8 342.5L1698.3 341.8L1699.8 343.1L1701.3 343.5L1702.8 346.2L1704.3 347.8L1705.8 351.9L1707.3 355.2L1708.8 360.1L1710.3 364.7L1711.8 371L1713.3 378.1L1714.8 384.5L1716.3 392L1717.8 402L1719.3 409.8L1720.8 418.9L1722.3 428L1723.8 437.6L1725.3 446.3L1726.8 455.1L1728.3 464.3L1729.8 472.3L1731.3 481L1732.8 489.7L1734.3 497.9L1735.8 505.7L1737.3 513.3L1738.8 520.4L1740.3 527L1741.8 532.9L1743.3 540.7L1744.8 546.6L1746.3 551.6L1747.8 558L1749.3 563.1L1750.8 567.7L1752.3 570.9L1753.8 574.7L1755.3 577.5L1756.8 580.7L1758.3 580.3L1759.8 581L1761.3 580.6L1762.8 580.9L1764.3 581.3L1765.8 579.3L1767.3 577.9L1768.8 579.8L1770.3 579.8L1771.8 579.8L1773.3 581.5L1774.8 582L1776.3 580.4L1777.8 581.9L1779.3 583.2L1780.8 583.3L1782.3 585.1L1783.8 587.8L1785.3 589L1786.8 590.6L1788.3 593.3L1789.8 595.4L1791.3 599.3L1792.8 601.1L1794.3 606.1L1795.8 607.6L1797.3 611.2L1798.8 612.5L1800.3 615.3L1801.8 618.1L1803.3 620.2L1804.8 622.5L1806.3 623.9L1807.8 626.1L1809.3 627.8L1810.8 629.2L1812.3 629.3L1813.8 631.1L1815.3 632L1816.8 635.2L1818.3 638.1L1819.8 641.6L1821.3 643.8L1822.8 646.7L1824.3 648.5L1825.8 651.1L1827.3 652.7L1828.8 654.7L1830.3 654.5L1831.8 657.7L1833.3 655.5L1834.8 655.6L1836.3 654.6L1837.8 651.5L1839.3 651.3L1840.8 650.5L1842.3 646L1843.8 645.6L1845.3 641.6L1846.8 638.9L1848.3 636.8L1849.8 634.2L1851.3 634.5L1852.8 633.7L1854.3 633.7L1855.8 634.7L1857.3 636.5L1858.8 634.9L1860.3 635.3L1861.8 635.2L1863.3 635.2L1864.8 636.2L1866.3 637.7L1867.8 637.9L1869.3 639.5L1870.8 640L1872.3 643.1L1873.8 642.2L1875.3 645.1L1876.8 646.5L1878.3 647.6L1879.8 648L1881.3 649.1L1882.8 650.4L1884.3 651.3L1885.8 651.4L1887.3 653.2L1888.8 656.7L1890.3 658.2L1891.8 658.1L1893.3 658.6L1894.8 659.1L1896.3 661.3L1897.8 660.3L1899.3 660.1L1900.8 660.9L1902.3 661.8L1903.8 661.3L1905.3 660L1906.8 661.1L1908.3 661.1L1909.8 661.4L1911.3 660.8L1912.8 660.6L1914.3 659.2L1915.8 658.8L1917.3 657.1L1918.8 654.7L1920.3 653.8L1921.8 654.7L1923.3 656.3L1924.8 656.9L1926.3 656.3L1927.8 653.3L1929.3 653.7L1930.8 652.6L1932.3 652.4L1933.8 651.6L1935.3 651.8L1936.8 651.2L1938.3 651.8L1939.8 648.5L1941.3 645.8L1942.8 643.7L1944.3 641.4L1945.8 639.3L1947.3 636.7L1948.8 634.7L1950.3 633.3L1951.8 631.2L1953.3 629.1L1954.8 628.2L1956.3 626.2L1957.8 624.6L1959.3 624.2L1960.8 625L1962.3 625.7L1963.8 626.3L1965.3 627.3L1966.8 627.1L1968.3 627.8L1969.8 629.5L1971.3 630.4L1972.8 630.1L1974.3 631.1L1975.8 631.9L1977.3 631.3L1978.8 631L1980.3 629.8L1981.8 632L1983.3 632.3L1984.8 632.6L1986.3 632.3L1987.8 631.4L1989.3 631.4L1990.8 630.5L1992.3 630.2L1993.8 627.3L1995.3 627.1L1996.8 624.2L1998.3 622.9L1999.8 619.6L2001.3 618.3L2002.8 616.8L2004.3 614.4L2005.8 611.8L2007.3 611L2008.8 610.2L2010.3 607.8L2011.8 606.7L2013.3 606.7L2014.8 605.1L2016.3 605.3L2017.8 603.5L2019.3 602.3L2020.8 602.2L2022.3 602.4L2023.8 599.7L2025.3 600.6L2026.8 602.1L2028.3 602.6L2029.8 604.2L2031.3 603.9L2032.8 604.3L2034.3 603.2L2035.8 603.4L2037.3 603L2038.8 604.8L2040.3 605.1L2041.8 606.4L2043.3 608.4L2044.8 608.2L2046.3 607.3L2047.8 606.1L2049.3 605.8L2050.8 603.9L2052.3 604.5L2053.8 603.7L2055.3 603.3L2056.8 603.7L2058.3 602.4L2059.8 601.9L2061.3 602.7L2062.8 602.1L2064.3 602L2065.8 602.4L2067.3 603.1L2068.8 603L2070.3 603.9L2071.8 603.4L2073.3 603.1L2074.8 601.8L2076.3 600.7L2077.8 599.8L2079.3 600.1L2080.8 599.8L2082.3 602.1L2083.8 600.3L2085.3 600.8L2086.8 601.2L2088.3 599.4L2089.8 599.6L2091.3 599.6L2092.8 599L2094.3 598.5L2095.8 598.5L2097.3 599.2L2098.8 598.6L2100.3 598.2L2101.8 598.4L2103.3 597.6L2104.8 599.3L2106.3 599.1L2107.8 596.3L2109.3 594.4L2110.8 592.9L2112.3 591.8L2113.8 590.7L2115.3 589.8L2116.8 587.6L2118.3 586.3L2119.8 584.9L2121.3 584.6L2122.8 584L2124.3 583.7L2125.8 585L2127.3 582.4L2128.8 584L2130.3 583.3L2131.8 582.8L2133.3 581.7L2134.8 581.1L2136.3 580.1L2137.8 580.2L2139.3 581.6L2140.8 581.1L2142.3 582.6L2143.8 582.6L2145.3 579.7L2146.8 581.5L2148.3 583.9L2149.8 584.2L2151.3 583.4L2152.8 582.3L2154.3 581.2L2155.8 580.2L2157.3 579.6L2158.8 576.9L2160.3 575.1L2161.8 567L2163.3 565.3L2164.8 563.2L2166.3 563.8L2167.8 563.7L2169.3 562.1L2170.8 560.7L2172.3 561.8L2173.8 563L2175.3 564.5L2176.8 567L2178.3 569.2L2179.8 569.3L2181.3 573.4L2182.8 573.9L2184.3 575.2L2185.8 577.3L2187.3 577L2188.8 576.9L2190.3 577L2191.8 577.4L2193.3 577.2L2194.8 576.9L2196.3 575.8L2197.8 576.1L2199.3 578L2200.8 577.2L2202.3 578.7L2203.8 577.9L2205.3 577.5L2206.8 576.6L2208.3 574.5L2209.8 569.2L2211.3 566.9L2212.8 566.6L2214.3 565.7L2215.8 565.3L2217.3 564.2L2218.8 563.1L2220.3 562.6L2221.8 562.1L2223.3 563.1L2224.8 563.5L2226.3 564.9L2227.8 565.9L2229.3 566.6L2230.8 566.2L2232.3 567.4L2233.8 569.4L2235.3 571.1L2236.8 571.6L2238.3 571.9L2239.8 570.9L2241.3 571.8L2242.8 571.6L2244.3 574.6L2245.8 575.8L2247.3 577.2L2248.8 577.6L2250.3 579.4L2251.8 579.8L2253.3 580.9L2254.8 581.2L2256.3 582.8"/>
</g>
<g stroke="#000" stroke-width="8" fill="none" stroke-linecap="butt">
<path d="M158.2 70.5H779M808.5 70.5H2255.5"/>
<path d="M158.2 1752.5H777.5M809.5 1752.5H2255.5"/>
<path d="M162.2 66.5V1784.8M2251.5 66.5V1768.5"/>
<path d="M398 1752V1784.8M634 1752V1784.8M1033.2 1752V1784.8M1254.7 1752V1784.8M1475.9 1752V1784.8M1697.4 1752V1784.8M1919 1752V1784.8M2140.2 1752V1784.8M280 1752V1768.5M516 1752V1768.5M752 1752V1768.5M922.6 1752V1768.5M1144.1 1752V1768.5M1365.6 1752V1768.5M1586.5 1752V1768.5M1807.8 1752V1768.5M2029.3 1752V1768.5"/>
<path d="M758.2 102L792.8 38M794.6 102L829.2 38M758.2 1784L792.8 1720M794.6 1784L829.2 1720"/>
</g>
<rect x="166" y="74" width="389.6" height="255" fill="#fff" stroke="#000" stroke-width="1.3"/>
<path d="M166 102.6 H284.3" stroke="#000" stroke-width="8" stroke-linecap="round" fill="none"/>
<path d="M166 167.7 H284.3" stroke="#f00" stroke-width="8" stroke-linecap="round" fill="none"/>
<path d="M166 230.6 H284.3" stroke="#0f0" stroke-width="8" stroke-linecap="round" fill="none"/>
<path d="M166 295.4 H284.3" stroke="#00f" stroke-width="8" stroke-linecap="round" fill="none"/>
<g font-family="'Liberation Serif', serif" fill="#000">
<text x="307" y="119.8" font-size="45.5">LP 100%</text>
<text x="307" y="184.9" font-size="45.5">LP 50/TF 50</text>
<text x="307" y="247.8" font-size="45.5">LP 30/TF 70</text>
<text x="307" y="312.6" font-size="45.5">LP 70/TF 30</text>
<text x="161.7" y="1852.8" font-size="66" text-anchor="middle">4000</text>
<text x="397.5" y="1852.8" font-size="66" text-anchor="middle">3500</text>
<text x="633.5" y="1852.8" font-size="66" text-anchor="middle">3000</text>
<text x="1032.7" y="1852.8" font-size="66" text-anchor="middle">1600</text>
<text x="1254.2" y="1852.8" font-size="66" text-anchor="middle">1400</text>
<text x="1475.4" y="1852.8" font-size="66" text-anchor="middle">1200</text>
<text x="1696.9" y="1852.8" font-size="66" text-anchor="middle">1000</text>
<text x="1918.5" y="1852.8" font-size="66" text-anchor="middle">800</text>
<text x="2139.7" y="1852.8" font-size="66" text-anchor="middle">600</text>
<text x="1205" y="2006" font-size="72" text-anchor="middle" textLength="624" lengthAdjust="spacingAndGlyphs">Wavenumber [cm<tspan font-size="46" dy="-27">−1</tspan><tspan dy="27">]</tspan></text>
<text transform="translate(88 912) rotate(-90)" font-size="72" text-anchor="middle" textLength="547" lengthAdjust="spacingAndGlyphs">Absorbance [a.u.]</text>
</g>
</svg>
</body></html>
